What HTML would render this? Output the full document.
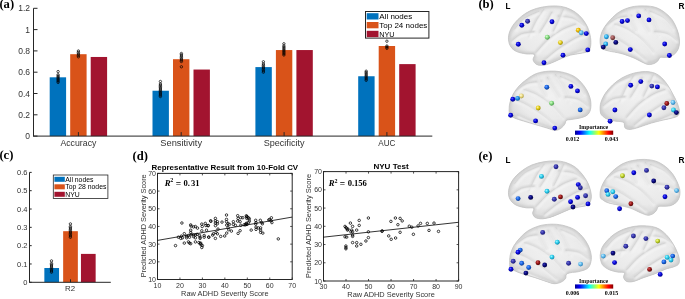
<!DOCTYPE html>
<html><head><meta charset="utf-8"><style>
html,body{margin:0;padding:0;background:#fff;width:685px;height:299px;overflow:hidden}
svg{display:block;will-change:transform}

</style></head><body>
<svg width="685" height="299" viewBox="0 0 685 299">
<rect width="685" height="299" fill="#fff"/>
<text x="-0.60" y="8.40" font-family="Liberation Serif" font-size="12.6" font-weight="bold" text-anchor="start" fill="#000" >(a)</text>
<line x1="33.50" y1="136.10" x2="37.50" y2="136.10" stroke="#262626" stroke-width="1"/>
<text x="30.10" y="139.10" font-family="Liberation Sans" font-size="8.5" font-weight="normal" text-anchor="end" fill="#333" >0</text>
<line x1="33.50" y1="114.80" x2="37.50" y2="114.80" stroke="#262626" stroke-width="1"/>
<text x="30.10" y="117.80" font-family="Liberation Sans" font-size="8.5" font-weight="normal" text-anchor="end" fill="#333" >0.2</text>
<line x1="33.50" y1="93.50" x2="37.50" y2="93.50" stroke="#262626" stroke-width="1"/>
<text x="30.10" y="96.50" font-family="Liberation Sans" font-size="8.5" font-weight="normal" text-anchor="end" fill="#333" >0.4</text>
<line x1="33.50" y1="72.20" x2="37.50" y2="72.20" stroke="#262626" stroke-width="1"/>
<text x="30.10" y="75.20" font-family="Liberation Sans" font-size="8.5" font-weight="normal" text-anchor="end" fill="#333" >0.6</text>
<line x1="33.50" y1="50.90" x2="37.50" y2="50.90" stroke="#262626" stroke-width="1"/>
<text x="30.10" y="53.90" font-family="Liberation Sans" font-size="8.5" font-weight="normal" text-anchor="end" fill="#333" >0.8</text>
<line x1="33.50" y1="29.60" x2="37.50" y2="29.60" stroke="#262626" stroke-width="1"/>
<text x="30.10" y="32.60" font-family="Liberation Sans" font-size="8.5" font-weight="normal" text-anchor="end" fill="#333" >1</text>
<line x1="33.50" y1="8.30" x2="37.50" y2="8.30" stroke="#262626" stroke-width="1"/>
<text x="30.10" y="11.30" font-family="Liberation Sans" font-size="8.5" font-weight="normal" text-anchor="end" fill="#333" >1.2</text>
<rect x="49.70" y="77.31" width="16.40" height="58.79" fill="#0072BD" stroke="none" stroke-width="0"/>
<rect x="70.20" y="54.20" width="16.40" height="81.90" fill="#D95319" stroke="none" stroke-width="0"/>
<rect x="90.70" y="56.97" width="16.40" height="79.13" fill="#A2142F" stroke="none" stroke-width="0"/>
<line x1="78.40" y1="136.10" x2="78.40" y2="132.10" stroke="#262626" stroke-width="1"/>
<text x="78.40" y="145.70" font-family="Liberation Sans" font-size="8.5" font-weight="normal" text-anchor="middle" fill="#333" textLength="36.0" lengthAdjust="spacingAndGlyphs">Accuracy</text>
<rect x="152.50" y="90.73" width="16.40" height="45.37" fill="#0072BD" stroke="none" stroke-width="0"/>
<rect x="173.00" y="59.21" width="16.40" height="76.89" fill="#D95319" stroke="none" stroke-width="0"/>
<rect x="193.50" y="69.54" width="16.40" height="66.56" fill="#A2142F" stroke="none" stroke-width="0"/>
<line x1="181.20" y1="136.10" x2="181.20" y2="132.10" stroke="#262626" stroke-width="1"/>
<text x="181.20" y="145.70" font-family="Liberation Sans" font-size="8.5" font-weight="normal" text-anchor="middle" fill="#333" textLength="41.8" lengthAdjust="spacingAndGlyphs">Sensitivity</text>
<rect x="255.40" y="67.09" width="16.40" height="69.01" fill="#0072BD" stroke="none" stroke-width="0"/>
<rect x="275.90" y="50.05" width="16.40" height="86.05" fill="#D95319" stroke="none" stroke-width="0"/>
<rect x="296.40" y="50.05" width="16.40" height="86.05" fill="#A2142F" stroke="none" stroke-width="0"/>
<line x1="284.10" y1="136.10" x2="284.10" y2="132.10" stroke="#262626" stroke-width="1"/>
<text x="284.10" y="145.70" font-family="Liberation Sans" font-size="8.5" font-weight="normal" text-anchor="middle" fill="#333" textLength="40.8" lengthAdjust="spacingAndGlyphs">Specificity</text>
<rect x="358.20" y="76.25" width="16.40" height="59.85" fill="#0072BD" stroke="none" stroke-width="0"/>
<rect x="378.70" y="46.00" width="16.40" height="90.10" fill="#D95319" stroke="none" stroke-width="0"/>
<rect x="399.20" y="64.11" width="16.40" height="71.99" fill="#A2142F" stroke="none" stroke-width="0"/>
<line x1="386.90" y1="136.10" x2="386.90" y2="132.10" stroke="#262626" stroke-width="1"/>
<text x="386.90" y="145.70" font-family="Liberation Sans" font-size="8.5" font-weight="normal" text-anchor="middle" fill="#333" textLength="17.2" lengthAdjust="spacingAndGlyphs">AUC</text>
<line x1="33.50" y1="8.30" x2="33.50" y2="136.60" stroke="#262626" stroke-width="1"/>
<line x1="33.50" y1="136.10" x2="432.30" y2="136.10" stroke="#262626" stroke-width="1"/>
<rect x="365.50" y="11.50" width="63.40" height="26.60" fill="#fff" stroke="#262626" stroke-width="1.0"/>
<rect x="366.70" y="13.20" width="11.80" height="6.30" fill="#0072BD" stroke="none" stroke-width="0"/>
<text x="379.30" y="19.20" font-family="Liberation Sans" font-size="8.0" font-weight="normal" text-anchor="start" fill="#000" >All nodes</text>
<rect x="366.70" y="22.00" width="11.80" height="6.30" fill="#D95319" stroke="none" stroke-width="0"/>
<text x="379.30" y="28.00" font-family="Liberation Sans" font-size="8.0" font-weight="normal" text-anchor="start" fill="#000" >Top 24 nodes</text>
<rect x="366.70" y="30.80" width="11.80" height="6.30" fill="#A2142F" stroke="none" stroke-width="0"/>
<text x="379.30" y="36.80" font-family="Liberation Sans" font-size="8.0" font-weight="normal" text-anchor="start" fill="#000" textLength="15.2" lengthAdjust="spacingAndGlyphs">NYU</text>
<text x="-0.60" y="159.30" font-family="Liberation Serif" font-size="12.6" font-weight="bold" text-anchor="start" fill="#000" >(c)</text>
<line x1="29.50" y1="282.30" x2="31.70" y2="282.30" stroke="#262626" stroke-width="1"/>
<text x="27.50" y="284.90" font-family="Liberation Sans" font-size="7.5" font-weight="normal" text-anchor="end" fill="#333" >0</text>
<line x1="29.50" y1="263.98" x2="31.70" y2="263.98" stroke="#262626" stroke-width="1"/>
<text x="27.50" y="266.58" font-family="Liberation Sans" font-size="7.5" font-weight="normal" text-anchor="end" fill="#333" >0.1</text>
<line x1="29.50" y1="245.66" x2="31.70" y2="245.66" stroke="#262626" stroke-width="1"/>
<text x="27.50" y="248.26" font-family="Liberation Sans" font-size="7.5" font-weight="normal" text-anchor="end" fill="#333" >0.2</text>
<line x1="29.50" y1="227.34" x2="31.70" y2="227.34" stroke="#262626" stroke-width="1"/>
<text x="27.50" y="229.94" font-family="Liberation Sans" font-size="7.5" font-weight="normal" text-anchor="end" fill="#333" >0.3</text>
<line x1="29.50" y1="209.02" x2="31.70" y2="209.02" stroke="#262626" stroke-width="1"/>
<text x="27.50" y="211.62" font-family="Liberation Sans" font-size="7.5" font-weight="normal" text-anchor="end" fill="#333" >0.4</text>
<line x1="29.50" y1="190.70" x2="31.70" y2="190.70" stroke="#262626" stroke-width="1"/>
<text x="27.50" y="193.30" font-family="Liberation Sans" font-size="7.5" font-weight="normal" text-anchor="end" fill="#333" >0.5</text>
<line x1="29.50" y1="172.38" x2="31.70" y2="172.38" stroke="#262626" stroke-width="1"/>
<text x="27.50" y="174.98" font-family="Liberation Sans" font-size="7.5" font-weight="normal" text-anchor="end" fill="#333" >0.6</text>
<rect x="44.35" y="268.01" width="14.70" height="14.29" fill="#0072BD" stroke="none" stroke-width="0"/>
<rect x="63.15" y="231.19" width="14.70" height="51.11" fill="#D95319" stroke="none" stroke-width="0"/>
<rect x="80.95" y="253.90" width="14.70" height="28.40" fill="#A2142F" stroke="none" stroke-width="0"/>
<line x1="70.50" y1="282.30" x2="70.50" y2="279.30" stroke="#262626" stroke-width="1"/>
<line x1="29.50" y1="172.38" x2="29.50" y2="282.80" stroke="#262626" stroke-width="1"/>
<line x1="29.50" y1="282.30" x2="110.80" y2="282.30" stroke="#262626" stroke-width="1"/>
<text x="70.00" y="291.30" font-family="Liberation Sans" font-size="7.9" font-weight="normal" text-anchor="middle" fill="#333" >R2</text>
<rect x="53.30" y="175.00" width="54.60" height="23.50" fill="#fff" stroke="#262626" stroke-width="0.8"/>
<rect x="54.40" y="176.80" width="10.40" height="5.00" fill="#0072BD" stroke="none" stroke-width="0"/>
<text x="65.30" y="181.80" font-family="Liberation Sans" font-size="6.85" font-weight="normal" text-anchor="start" fill="#000" >All nodes</text>
<rect x="54.40" y="184.30" width="10.40" height="5.00" fill="#D95319" stroke="none" stroke-width="0"/>
<text x="65.30" y="189.30" font-family="Liberation Sans" font-size="6.85" font-weight="normal" text-anchor="start" fill="#000" >Top 28 nodes</text>
<rect x="54.40" y="191.80" width="10.40" height="5.00" fill="#A2142F" stroke="none" stroke-width="0"/>
<text x="65.30" y="196.80" font-family="Liberation Sans" font-size="6.85" font-weight="normal" text-anchor="start" fill="#000" >NYU</text>
<text x="132.50" y="159.60" font-family="Liberation Serif" font-size="12.6" font-weight="bold" text-anchor="start" fill="#000" >(d)</text>
<rect x="157.50" y="173.40" width="134.70" height="106.10" fill="none" stroke="#262626" stroke-width="1.0"/>
<line x1="157.50" y1="279.50" x2="157.50" y2="277.50" stroke="#262626" stroke-width="0.8"/>
<line x1="157.50" y1="173.40" x2="157.50" y2="175.40" stroke="#262626" stroke-width="0.8"/>
<text x="157.50" y="287.70" font-family="Liberation Sans" font-size="7.0" font-weight="normal" text-anchor="middle" fill="#333" >10</text>
<line x1="179.95" y1="279.50" x2="179.95" y2="277.50" stroke="#262626" stroke-width="0.8"/>
<line x1="179.95" y1="173.40" x2="179.95" y2="175.40" stroke="#262626" stroke-width="0.8"/>
<text x="179.95" y="287.70" font-family="Liberation Sans" font-size="7.0" font-weight="normal" text-anchor="middle" fill="#333" >20</text>
<line x1="202.40" y1="279.50" x2="202.40" y2="277.50" stroke="#262626" stroke-width="0.8"/>
<line x1="202.40" y1="173.40" x2="202.40" y2="175.40" stroke="#262626" stroke-width="0.8"/>
<text x="202.40" y="287.70" font-family="Liberation Sans" font-size="7.0" font-weight="normal" text-anchor="middle" fill="#333" >30</text>
<line x1="224.85" y1="279.50" x2="224.85" y2="277.50" stroke="#262626" stroke-width="0.8"/>
<line x1="224.85" y1="173.40" x2="224.85" y2="175.40" stroke="#262626" stroke-width="0.8"/>
<text x="224.85" y="287.70" font-family="Liberation Sans" font-size="7.0" font-weight="normal" text-anchor="middle" fill="#333" >40</text>
<line x1="247.30" y1="279.50" x2="247.30" y2="277.50" stroke="#262626" stroke-width="0.8"/>
<line x1="247.30" y1="173.40" x2="247.30" y2="175.40" stroke="#262626" stroke-width="0.8"/>
<text x="247.30" y="287.70" font-family="Liberation Sans" font-size="7.0" font-weight="normal" text-anchor="middle" fill="#333" >50</text>
<line x1="269.75" y1="279.50" x2="269.75" y2="277.50" stroke="#262626" stroke-width="0.8"/>
<line x1="269.75" y1="173.40" x2="269.75" y2="175.40" stroke="#262626" stroke-width="0.8"/>
<text x="269.75" y="287.70" font-family="Liberation Sans" font-size="7.0" font-weight="normal" text-anchor="middle" fill="#333" >60</text>
<line x1="292.20" y1="279.50" x2="292.20" y2="277.50" stroke="#262626" stroke-width="0.8"/>
<line x1="292.20" y1="173.40" x2="292.20" y2="175.40" stroke="#262626" stroke-width="0.8"/>
<text x="292.20" y="287.70" font-family="Liberation Sans" font-size="7.0" font-weight="normal" text-anchor="middle" fill="#333" >70</text>
<line x1="157.50" y1="279.50" x2="159.50" y2="279.50" stroke="#262626" stroke-width="0.8"/>
<line x1="292.20" y1="279.50" x2="290.20" y2="279.50" stroke="#262626" stroke-width="0.8"/>
<text x="156.00" y="282.00" font-family="Liberation Sans" font-size="7.0" font-weight="normal" text-anchor="end" fill="#333" >10</text>
<line x1="157.50" y1="261.82" x2="159.50" y2="261.82" stroke="#262626" stroke-width="0.8"/>
<line x1="292.20" y1="261.82" x2="290.20" y2="261.82" stroke="#262626" stroke-width="0.8"/>
<text x="156.00" y="264.32" font-family="Liberation Sans" font-size="7.0" font-weight="normal" text-anchor="end" fill="#333" >20</text>
<line x1="157.50" y1="244.13" x2="159.50" y2="244.13" stroke="#262626" stroke-width="0.8"/>
<line x1="292.20" y1="244.13" x2="290.20" y2="244.13" stroke="#262626" stroke-width="0.8"/>
<text x="156.00" y="246.63" font-family="Liberation Sans" font-size="7.0" font-weight="normal" text-anchor="end" fill="#333" >30</text>
<line x1="157.50" y1="226.45" x2="159.50" y2="226.45" stroke="#262626" stroke-width="0.8"/>
<line x1="292.20" y1="226.45" x2="290.20" y2="226.45" stroke="#262626" stroke-width="0.8"/>
<text x="156.00" y="228.95" font-family="Liberation Sans" font-size="7.0" font-weight="normal" text-anchor="end" fill="#333" >40</text>
<line x1="157.50" y1="208.77" x2="159.50" y2="208.77" stroke="#262626" stroke-width="0.8"/>
<line x1="292.20" y1="208.77" x2="290.20" y2="208.77" stroke="#262626" stroke-width="0.8"/>
<text x="156.00" y="211.27" font-family="Liberation Sans" font-size="7.0" font-weight="normal" text-anchor="end" fill="#333" >50</text>
<line x1="157.50" y1="191.08" x2="159.50" y2="191.08" stroke="#262626" stroke-width="0.8"/>
<line x1="292.20" y1="191.08" x2="290.20" y2="191.08" stroke="#262626" stroke-width="0.8"/>
<text x="156.00" y="193.58" font-family="Liberation Sans" font-size="7.0" font-weight="normal" text-anchor="end" fill="#333" >60</text>
<line x1="157.50" y1="173.40" x2="159.50" y2="173.40" stroke="#262626" stroke-width="0.8"/>
<line x1="292.20" y1="173.40" x2="290.20" y2="173.40" stroke="#262626" stroke-width="0.8"/>
<text x="156.00" y="175.90" font-family="Liberation Sans" font-size="7.0" font-weight="normal" text-anchor="end" fill="#333" >70</text>
<text x="224.85" y="170.40" font-family="Liberation Sans" font-size="7.85" font-weight="bold" text-anchor="middle" fill="#000" textLength="146.6" lengthAdjust="spacingAndGlyphs">Representative Result from 10-Fold CV</text>
<text x="224.85" y="295.70" font-family="Liberation Sans" font-size="7.4" font-weight="normal" text-anchor="middle" fill="#333" >Raw ADHD Severity Score</text>
<text x="146.40" y="225.80" font-family="Liberation Sans" font-size="7.8" font-weight="normal" text-anchor="middle" fill="#333" textLength="103.0" lengthAdjust="spacingAndGlyphs" transform="rotate(-90 146.40 225.80)">Predicted ADHD Severity Score</text>
<text x="164.7" y="185.8" font-family="Liberation Serif" font-weight="bold" fill="#000" font-size="8.6" font-style="italic">R</text>
<text x="170.20000000000002" y="182.4" font-family="Liberation Serif" font-weight="bold" fill="#000" font-size="6.0">2</text>
<text x="175.8" y="186.70000000000002" font-family="Liberation Serif" font-weight="bold" fill="#000" font-size="9.4">=</text>
<text x="183.5" y="185.8" font-family="Liberation Serif" font-weight="bold" fill="#000" font-size="8.6">0.</text>
<text x="191.0" y="185.8" font-family="Liberation Serif" font-weight="bold" fill="#000" font-size="8.6">31</text>
<line x1="157.50" y1="240.40" x2="292.10" y2="217.10" stroke="#000" stroke-width="0.8"/>
<circle cx="181.90" cy="223.00" r="1.25" fill="none" stroke="#000" stroke-width="0.75"/>
<circle cx="175.50" cy="245.60" r="1.25" fill="none" stroke="#000" stroke-width="0.75"/>
<circle cx="190.70" cy="224.90" r="1.25" fill="none" stroke="#000" stroke-width="0.75"/>
<circle cx="191.10" cy="226.10" r="1.25" fill="none" stroke="#000" stroke-width="0.75"/>
<circle cx="193.60" cy="226.90" r="1.25" fill="none" stroke="#000" stroke-width="0.75"/>
<circle cx="195.40" cy="226.50" r="1.25" fill="none" stroke="#000" stroke-width="0.75"/>
<circle cx="197.50" cy="228.10" r="1.25" fill="none" stroke="#000" stroke-width="0.75"/>
<circle cx="201.80" cy="224.10" r="1.25" fill="none" stroke="#000" stroke-width="0.75"/>
<circle cx="202.20" cy="226.50" r="1.25" fill="none" stroke="#000" stroke-width="0.75"/>
<circle cx="205.30" cy="223.40" r="1.25" fill="none" stroke="#000" stroke-width="0.75"/>
<circle cx="205.90" cy="225.50" r="1.25" fill="none" stroke="#000" stroke-width="0.75"/>
<circle cx="208.30" cy="225.50" r="1.25" fill="none" stroke="#000" stroke-width="0.75"/>
<circle cx="210.60" cy="220.80" r="1.25" fill="none" stroke="#000" stroke-width="0.75"/>
<circle cx="190.70" cy="230.20" r="1.25" fill="none" stroke="#000" stroke-width="0.75"/>
<circle cx="190.70" cy="232.50" r="1.25" fill="none" stroke="#000" stroke-width="0.75"/>
<circle cx="201.80" cy="230.80" r="1.25" fill="none" stroke="#000" stroke-width="0.75"/>
<circle cx="206.50" cy="230.20" r="1.25" fill="none" stroke="#000" stroke-width="0.75"/>
<circle cx="184.30" cy="233.70" r="1.25" fill="none" stroke="#000" stroke-width="0.75"/>
<circle cx="181.40" cy="236.10" r="1.25" fill="none" stroke="#000" stroke-width="0.75"/>
<circle cx="182.50" cy="237.80" r="1.25" fill="none" stroke="#000" stroke-width="0.75"/>
<circle cx="186.60" cy="236.10" r="1.25" fill="none" stroke="#000" stroke-width="0.75"/>
<circle cx="188.40" cy="235.50" r="1.25" fill="none" stroke="#000" stroke-width="0.75"/>
<circle cx="189.50" cy="237.20" r="1.25" fill="none" stroke="#000" stroke-width="0.75"/>
<circle cx="186.60" cy="237.80" r="1.25" fill="none" stroke="#000" stroke-width="0.75"/>
<circle cx="191.30" cy="234.30" r="1.25" fill="none" stroke="#000" stroke-width="0.75"/>
<circle cx="193.60" cy="234.90" r="1.25" fill="none" stroke="#000" stroke-width="0.75"/>
<circle cx="195.40" cy="234.90" r="1.25" fill="none" stroke="#000" stroke-width="0.75"/>
<circle cx="197.10" cy="234.30" r="1.25" fill="none" stroke="#000" stroke-width="0.75"/>
<circle cx="199.50" cy="235.50" r="1.25" fill="none" stroke="#000" stroke-width="0.75"/>
<circle cx="200.10" cy="237.20" r="1.25" fill="none" stroke="#000" stroke-width="0.75"/>
<circle cx="200.10" cy="238.40" r="1.25" fill="none" stroke="#000" stroke-width="0.75"/>
<circle cx="193.60" cy="236.60" r="1.25" fill="none" stroke="#000" stroke-width="0.75"/>
<circle cx="195.40" cy="237.80" r="1.25" fill="none" stroke="#000" stroke-width="0.75"/>
<circle cx="204.20" cy="235.50" r="1.25" fill="none" stroke="#000" stroke-width="0.75"/>
<circle cx="204.20" cy="237.20" r="1.25" fill="none" stroke="#000" stroke-width="0.75"/>
<circle cx="208.80" cy="237.20" r="1.25" fill="none" stroke="#000" stroke-width="0.75"/>
<circle cx="184.30" cy="243.10" r="1.25" fill="none" stroke="#000" stroke-width="0.75"/>
<circle cx="188.40" cy="241.90" r="1.25" fill="none" stroke="#000" stroke-width="0.75"/>
<circle cx="189.50" cy="243.10" r="1.25" fill="none" stroke="#000" stroke-width="0.75"/>
<circle cx="190.70" cy="243.70" r="1.25" fill="none" stroke="#000" stroke-width="0.75"/>
<circle cx="195.40" cy="241.90" r="1.25" fill="none" stroke="#000" stroke-width="0.75"/>
<circle cx="198.90" cy="242.50" r="1.25" fill="none" stroke="#000" stroke-width="0.75"/>
<circle cx="200.10" cy="243.70" r="1.25" fill="none" stroke="#000" stroke-width="0.75"/>
<circle cx="201.20" cy="244.80" r="1.25" fill="none" stroke="#000" stroke-width="0.75"/>
<circle cx="202.40" cy="245.60" r="1.25" fill="none" stroke="#000" stroke-width="0.75"/>
<circle cx="201.80" cy="247.50" r="1.25" fill="none" stroke="#000" stroke-width="0.75"/>
<circle cx="200.70" cy="243.10" r="1.25" fill="none" stroke="#000" stroke-width="0.75"/>
<circle cx="178.40" cy="237.20" r="1.25" fill="none" stroke="#000" stroke-width="0.75"/>
<circle cx="180.80" cy="238.40" r="1.25" fill="none" stroke="#000" stroke-width="0.75"/>
<circle cx="226.50" cy="215.00" r="1.25" fill="none" stroke="#000" stroke-width="0.75"/>
<circle cx="210.90" cy="221.30" r="1.25" fill="none" stroke="#000" stroke-width="0.75"/>
<circle cx="215.40" cy="218.40" r="1.25" fill="none" stroke="#000" stroke-width="0.75"/>
<circle cx="215.40" cy="220.80" r="1.25" fill="none" stroke="#000" stroke-width="0.75"/>
<circle cx="215.40" cy="223.10" r="1.25" fill="none" stroke="#000" stroke-width="0.75"/>
<circle cx="215.40" cy="225.70" r="1.25" fill="none" stroke="#000" stroke-width="0.75"/>
<circle cx="217.40" cy="221.70" r="1.25" fill="none" stroke="#000" stroke-width="0.75"/>
<circle cx="217.40" cy="223.70" r="1.25" fill="none" stroke="#000" stroke-width="0.75"/>
<circle cx="222.00" cy="222.10" r="1.25" fill="none" stroke="#000" stroke-width="0.75"/>
<circle cx="226.50" cy="219.40" r="1.25" fill="none" stroke="#000" stroke-width="0.75"/>
<circle cx="226.50" cy="221.70" r="1.25" fill="none" stroke="#000" stroke-width="0.75"/>
<circle cx="226.70" cy="225.10" r="1.25" fill="none" stroke="#000" stroke-width="0.75"/>
<circle cx="228.10" cy="223.70" r="1.25" fill="none" stroke="#000" stroke-width="0.75"/>
<circle cx="229.40" cy="224.40" r="1.25" fill="none" stroke="#000" stroke-width="0.75"/>
<circle cx="233.40" cy="221.70" r="1.25" fill="none" stroke="#000" stroke-width="0.75"/>
<circle cx="233.40" cy="224.40" r="1.25" fill="none" stroke="#000" stroke-width="0.75"/>
<circle cx="235.40" cy="225.30" r="1.25" fill="none" stroke="#000" stroke-width="0.75"/>
<circle cx="237.70" cy="215.70" r="1.25" fill="none" stroke="#000" stroke-width="0.75"/>
<circle cx="238.10" cy="218.40" r="1.25" fill="none" stroke="#000" stroke-width="0.75"/>
<circle cx="237.70" cy="221.10" r="1.25" fill="none" stroke="#000" stroke-width="0.75"/>
<circle cx="240.80" cy="217.70" r="1.25" fill="none" stroke="#000" stroke-width="0.75"/>
<circle cx="242.80" cy="217.70" r="1.25" fill="none" stroke="#000" stroke-width="0.75"/>
<circle cx="240.10" cy="221.70" r="1.25" fill="none" stroke="#000" stroke-width="0.75"/>
<circle cx="246.80" cy="216.40" r="1.25" fill="none" stroke="#000" stroke-width="0.75"/>
<circle cx="246.80" cy="218.40" r="1.25" fill="none" stroke="#000" stroke-width="0.75"/>
<circle cx="240.80" cy="225.30" r="1.25" fill="none" stroke="#000" stroke-width="0.75"/>
<circle cx="244.10" cy="224.80" r="1.25" fill="none" stroke="#000" stroke-width="0.75"/>
<circle cx="246.10" cy="224.00" r="1.25" fill="none" stroke="#000" stroke-width="0.75"/>
<circle cx="218.00" cy="229.10" r="1.25" fill="none" stroke="#000" stroke-width="0.75"/>
<circle cx="216.00" cy="232.40" r="1.25" fill="none" stroke="#000" stroke-width="0.75"/>
<circle cx="217.40" cy="233.80" r="1.25" fill="none" stroke="#000" stroke-width="0.75"/>
<circle cx="213.40" cy="233.80" r="1.25" fill="none" stroke="#000" stroke-width="0.75"/>
<circle cx="212.70" cy="235.10" r="1.25" fill="none" stroke="#000" stroke-width="0.75"/>
<circle cx="228.10" cy="227.70" r="1.25" fill="none" stroke="#000" stroke-width="0.75"/>
<circle cx="228.70" cy="229.70" r="1.25" fill="none" stroke="#000" stroke-width="0.75"/>
<circle cx="231.40" cy="231.10" r="1.25" fill="none" stroke="#000" stroke-width="0.75"/>
<circle cx="226.70" cy="233.10" r="1.25" fill="none" stroke="#000" stroke-width="0.75"/>
<circle cx="224.70" cy="236.00" r="1.25" fill="none" stroke="#000" stroke-width="0.75"/>
<circle cx="220.70" cy="236.40" r="1.25" fill="none" stroke="#000" stroke-width="0.75"/>
<circle cx="240.10" cy="230.70" r="1.25" fill="none" stroke="#000" stroke-width="0.75"/>
<circle cx="238.10" cy="233.40" r="1.25" fill="none" stroke="#000" stroke-width="0.75"/>
<circle cx="215.40" cy="238.40" r="1.25" fill="none" stroke="#000" stroke-width="0.75"/>
<circle cx="208.70" cy="237.10" r="1.25" fill="none" stroke="#000" stroke-width="0.75"/>
<circle cx="208.00" cy="225.70" r="1.25" fill="none" stroke="#000" stroke-width="0.75"/>
<circle cx="246.30" cy="215.80" r="1.25" fill="none" stroke="#000" stroke-width="0.75"/>
<circle cx="247.00" cy="216.90" r="1.25" fill="none" stroke="#000" stroke-width="0.75"/>
<circle cx="248.50" cy="217.80" r="1.25" fill="none" stroke="#000" stroke-width="0.75"/>
<circle cx="249.30" cy="218.80" r="1.25" fill="none" stroke="#000" stroke-width="0.75"/>
<circle cx="249.30" cy="221.10" r="1.25" fill="none" stroke="#000" stroke-width="0.75"/>
<circle cx="248.50" cy="222.60" r="1.25" fill="none" stroke="#000" stroke-width="0.75"/>
<circle cx="246.30" cy="223.30" r="1.25" fill="none" stroke="#000" stroke-width="0.75"/>
<circle cx="247.00" cy="224.40" r="1.25" fill="none" stroke="#000" stroke-width="0.75"/>
<circle cx="245.50" cy="224.80" r="1.25" fill="none" stroke="#000" stroke-width="0.75"/>
<circle cx="255.70" cy="220.30" r="1.25" fill="none" stroke="#000" stroke-width="0.75"/>
<circle cx="256.00" cy="222.60" r="1.25" fill="none" stroke="#000" stroke-width="0.75"/>
<circle cx="255.70" cy="224.10" r="1.25" fill="none" stroke="#000" stroke-width="0.75"/>
<circle cx="260.30" cy="220.30" r="1.25" fill="none" stroke="#000" stroke-width="0.75"/>
<circle cx="261.80" cy="222.60" r="1.25" fill="none" stroke="#000" stroke-width="0.75"/>
<circle cx="262.40" cy="223.80" r="1.25" fill="none" stroke="#000" stroke-width="0.75"/>
<circle cx="269.60" cy="219.60" r="1.25" fill="none" stroke="#000" stroke-width="0.75"/>
<circle cx="271.40" cy="217.80" r="1.25" fill="none" stroke="#000" stroke-width="0.75"/>
<circle cx="271.10" cy="220.80" r="1.25" fill="none" stroke="#000" stroke-width="0.75"/>
<circle cx="271.90" cy="222.60" r="1.25" fill="none" stroke="#000" stroke-width="0.75"/>
<circle cx="268.80" cy="219.90" r="1.25" fill="none" stroke="#000" stroke-width="0.75"/>
<circle cx="251.20" cy="230.10" r="1.25" fill="none" stroke="#000" stroke-width="0.75"/>
<circle cx="256.00" cy="227.10" r="1.25" fill="none" stroke="#000" stroke-width="0.75"/>
<circle cx="256.00" cy="229.40" r="1.25" fill="none" stroke="#000" stroke-width="0.75"/>
<circle cx="258.30" cy="227.90" r="1.25" fill="none" stroke="#000" stroke-width="0.75"/>
<circle cx="260.60" cy="227.90" r="1.25" fill="none" stroke="#000" stroke-width="0.75"/>
<circle cx="260.60" cy="230.10" r="1.25" fill="none" stroke="#000" stroke-width="0.75"/>
<circle cx="260.60" cy="232.40" r="1.25" fill="none" stroke="#000" stroke-width="0.75"/>
<circle cx="262.80" cy="233.10" r="1.25" fill="none" stroke="#000" stroke-width="0.75"/>
<circle cx="278.30" cy="238.90" r="1.25" fill="none" stroke="#000" stroke-width="0.75"/>
<rect x="323.50" y="171.60" width="135.10" height="109.40" fill="none" stroke="#262626" stroke-width="1.0"/>
<line x1="323.50" y1="281.00" x2="323.50" y2="279.00" stroke="#262626" stroke-width="0.8"/>
<line x1="323.50" y1="171.60" x2="323.50" y2="173.60" stroke="#262626" stroke-width="0.8"/>
<text x="323.50" y="289.20" font-family="Liberation Sans" font-size="7.0" font-weight="normal" text-anchor="middle" fill="#333" >30</text>
<line x1="346.02" y1="281.00" x2="346.02" y2="279.00" stroke="#262626" stroke-width="0.8"/>
<line x1="346.02" y1="171.60" x2="346.02" y2="173.60" stroke="#262626" stroke-width="0.8"/>
<text x="346.02" y="289.20" font-family="Liberation Sans" font-size="7.0" font-weight="normal" text-anchor="middle" fill="#333" >40</text>
<line x1="368.53" y1="281.00" x2="368.53" y2="279.00" stroke="#262626" stroke-width="0.8"/>
<line x1="368.53" y1="171.60" x2="368.53" y2="173.60" stroke="#262626" stroke-width="0.8"/>
<text x="368.53" y="289.20" font-family="Liberation Sans" font-size="7.0" font-weight="normal" text-anchor="middle" fill="#333" >50</text>
<line x1="391.05" y1="281.00" x2="391.05" y2="279.00" stroke="#262626" stroke-width="0.8"/>
<line x1="391.05" y1="171.60" x2="391.05" y2="173.60" stroke="#262626" stroke-width="0.8"/>
<text x="391.05" y="289.20" font-family="Liberation Sans" font-size="7.0" font-weight="normal" text-anchor="middle" fill="#333" >60</text>
<line x1="413.57" y1="281.00" x2="413.57" y2="279.00" stroke="#262626" stroke-width="0.8"/>
<line x1="413.57" y1="171.60" x2="413.57" y2="173.60" stroke="#262626" stroke-width="0.8"/>
<text x="413.57" y="289.20" font-family="Liberation Sans" font-size="7.0" font-weight="normal" text-anchor="middle" fill="#333" >70</text>
<line x1="436.08" y1="281.00" x2="436.08" y2="279.00" stroke="#262626" stroke-width="0.8"/>
<line x1="436.08" y1="171.60" x2="436.08" y2="173.60" stroke="#262626" stroke-width="0.8"/>
<text x="436.08" y="289.20" font-family="Liberation Sans" font-size="7.0" font-weight="normal" text-anchor="middle" fill="#333" >80</text>
<line x1="458.60" y1="281.00" x2="458.60" y2="279.00" stroke="#262626" stroke-width="0.8"/>
<line x1="458.60" y1="171.60" x2="458.60" y2="173.60" stroke="#262626" stroke-width="0.8"/>
<text x="458.60" y="289.20" font-family="Liberation Sans" font-size="7.0" font-weight="normal" text-anchor="middle" fill="#333" >90</text>
<line x1="323.50" y1="281.00" x2="325.50" y2="281.00" stroke="#262626" stroke-width="0.8"/>
<line x1="458.60" y1="281.00" x2="456.60" y2="281.00" stroke="#262626" stroke-width="0.8"/>
<text x="322.00" y="283.50" font-family="Liberation Sans" font-size="7.0" font-weight="normal" text-anchor="end" fill="#333" >10</text>
<line x1="323.50" y1="262.77" x2="325.50" y2="262.77" stroke="#262626" stroke-width="0.8"/>
<line x1="458.60" y1="262.77" x2="456.60" y2="262.77" stroke="#262626" stroke-width="0.8"/>
<text x="322.00" y="265.27" font-family="Liberation Sans" font-size="7.0" font-weight="normal" text-anchor="end" fill="#333" >20</text>
<line x1="323.50" y1="244.53" x2="325.50" y2="244.53" stroke="#262626" stroke-width="0.8"/>
<line x1="458.60" y1="244.53" x2="456.60" y2="244.53" stroke="#262626" stroke-width="0.8"/>
<text x="322.00" y="247.03" font-family="Liberation Sans" font-size="7.0" font-weight="normal" text-anchor="end" fill="#333" >30</text>
<line x1="323.50" y1="226.30" x2="325.50" y2="226.30" stroke="#262626" stroke-width="0.8"/>
<line x1="458.60" y1="226.30" x2="456.60" y2="226.30" stroke="#262626" stroke-width="0.8"/>
<text x="322.00" y="228.80" font-family="Liberation Sans" font-size="7.0" font-weight="normal" text-anchor="end" fill="#333" >40</text>
<line x1="323.50" y1="208.07" x2="325.50" y2="208.07" stroke="#262626" stroke-width="0.8"/>
<line x1="458.60" y1="208.07" x2="456.60" y2="208.07" stroke="#262626" stroke-width="0.8"/>
<text x="322.00" y="210.57" font-family="Liberation Sans" font-size="7.0" font-weight="normal" text-anchor="end" fill="#333" >50</text>
<line x1="323.50" y1="189.83" x2="325.50" y2="189.83" stroke="#262626" stroke-width="0.8"/>
<line x1="458.60" y1="189.83" x2="456.60" y2="189.83" stroke="#262626" stroke-width="0.8"/>
<text x="322.00" y="192.33" font-family="Liberation Sans" font-size="7.0" font-weight="normal" text-anchor="end" fill="#333" >60</text>
<line x1="323.50" y1="171.60" x2="325.50" y2="171.60" stroke="#262626" stroke-width="0.8"/>
<line x1="458.60" y1="171.60" x2="456.60" y2="171.60" stroke="#262626" stroke-width="0.8"/>
<text x="322.00" y="174.10" font-family="Liberation Sans" font-size="7.0" font-weight="normal" text-anchor="end" fill="#333" >70</text>
<text x="391.05" y="168.60" font-family="Liberation Sans" font-size="7.85" font-weight="bold" text-anchor="middle" fill="#000" textLength="35.2" lengthAdjust="spacingAndGlyphs">NYU Test</text>
<text x="391.05" y="297.20" font-family="Liberation Sans" font-size="7.4" font-weight="normal" text-anchor="middle" fill="#333" >Raw ADHD Severity Score</text>
<text x="311.30" y="226.00" font-family="Liberation Sans" font-size="7.8" font-weight="normal" text-anchor="middle" fill="#333" textLength="104.0" lengthAdjust="spacingAndGlyphs" transform="rotate(-90 311.30 226.00)">Predicted ADHD Severity Score</text>
<text x="328.8" y="186.0" font-family="Liberation Serif" font-weight="bold" fill="#000" font-size="8.6" font-style="italic">R</text>
<text x="334.6" y="182.6" font-family="Liberation Serif" font-weight="bold" fill="#000" font-size="6.0">2</text>
<text x="339.7" y="186.9" font-family="Liberation Serif" font-weight="bold" fill="#000" font-size="9.4">=</text>
<text x="347.8" y="186.0" font-family="Liberation Serif" font-weight="bold" fill="#000" font-size="8.6">0.</text>
<text x="354.0" y="186.0" font-family="Liberation Serif" font-weight="bold" fill="#000" font-size="8.6">156</text>
<line x1="323.20" y1="237.20" x2="458.50" y2="222.30" stroke="#000" stroke-width="0.8"/>
<circle cx="368.40" cy="218.00" r="1.25" fill="none" stroke="#000" stroke-width="0.75"/>
<circle cx="359.20" cy="220.40" r="1.25" fill="none" stroke="#000" stroke-width="0.75"/>
<circle cx="350.40" cy="223.10" r="1.25" fill="none" stroke="#000" stroke-width="0.75"/>
<circle cx="359.20" cy="225.40" r="1.25" fill="none" stroke="#000" stroke-width="0.75"/>
<circle cx="352.60" cy="226.40" r="1.25" fill="none" stroke="#000" stroke-width="0.75"/>
<circle cx="345.00" cy="226.40" r="1.25" fill="none" stroke="#000" stroke-width="0.75"/>
<circle cx="345.90" cy="227.60" r="1.25" fill="none" stroke="#000" stroke-width="0.75"/>
<circle cx="346.70" cy="228.40" r="1.25" fill="none" stroke="#000" stroke-width="0.75"/>
<circle cx="348.00" cy="229.20" r="1.25" fill="none" stroke="#000" stroke-width="0.75"/>
<circle cx="347.50" cy="230.10" r="1.25" fill="none" stroke="#000" stroke-width="0.75"/>
<circle cx="351.70" cy="230.10" r="1.25" fill="none" stroke="#000" stroke-width="0.75"/>
<circle cx="352.60" cy="231.80" r="1.25" fill="none" stroke="#000" stroke-width="0.75"/>
<circle cx="350.90" cy="231.80" r="1.25" fill="none" stroke="#000" stroke-width="0.75"/>
<circle cx="356.70" cy="230.10" r="1.25" fill="none" stroke="#000" stroke-width="0.75"/>
<circle cx="345.00" cy="236.80" r="1.25" fill="none" stroke="#000" stroke-width="0.75"/>
<circle cx="346.70" cy="237.10" r="1.25" fill="none" stroke="#000" stroke-width="0.75"/>
<circle cx="352.60" cy="235.10" r="1.25" fill="none" stroke="#000" stroke-width="0.75"/>
<circle cx="352.60" cy="236.40" r="1.25" fill="none" stroke="#000" stroke-width="0.75"/>
<circle cx="368.40" cy="231.80" r="1.25" fill="none" stroke="#000" stroke-width="0.75"/>
<circle cx="382.20" cy="230.90" r="1.25" fill="none" stroke="#000" stroke-width="0.75"/>
<circle cx="368.40" cy="237.60" r="1.25" fill="none" stroke="#000" stroke-width="0.75"/>
<circle cx="365.90" cy="241.00" r="1.25" fill="none" stroke="#000" stroke-width="0.75"/>
<circle cx="352.60" cy="242.60" r="1.25" fill="none" stroke="#000" stroke-width="0.75"/>
<circle cx="356.70" cy="242.60" r="1.25" fill="none" stroke="#000" stroke-width="0.75"/>
<circle cx="356.70" cy="246.00" r="1.25" fill="none" stroke="#000" stroke-width="0.75"/>
<circle cx="360.90" cy="244.30" r="1.25" fill="none" stroke="#000" stroke-width="0.75"/>
<circle cx="345.90" cy="246.00" r="1.25" fill="none" stroke="#000" stroke-width="0.75"/>
<circle cx="345.90" cy="247.60" r="1.25" fill="none" stroke="#000" stroke-width="0.75"/>
<circle cx="345.90" cy="248.80" r="1.25" fill="none" stroke="#000" stroke-width="0.75"/>
<circle cx="395.40" cy="218.00" r="1.25" fill="none" stroke="#000" stroke-width="0.75"/>
<circle cx="390.90" cy="221.40" r="1.25" fill="none" stroke="#000" stroke-width="0.75"/>
<circle cx="400.10" cy="218.40" r="1.25" fill="none" stroke="#000" stroke-width="0.75"/>
<circle cx="402.20" cy="220.90" r="1.25" fill="none" stroke="#000" stroke-width="0.75"/>
<circle cx="397.90" cy="224.70" r="1.25" fill="none" stroke="#000" stroke-width="0.75"/>
<circle cx="382.00" cy="231.30" r="1.25" fill="none" stroke="#000" stroke-width="0.75"/>
<circle cx="400.10" cy="232.30" r="1.25" fill="none" stroke="#000" stroke-width="0.75"/>
<circle cx="388.70" cy="235.90" r="1.25" fill="none" stroke="#000" stroke-width="0.75"/>
<circle cx="391.20" cy="239.30" r="1.25" fill="none" stroke="#000" stroke-width="0.75"/>
<circle cx="395.60" cy="238.00" r="1.25" fill="none" stroke="#000" stroke-width="0.75"/>
<circle cx="409.30" cy="226.20" r="1.25" fill="none" stroke="#000" stroke-width="0.75"/>
<circle cx="411.80" cy="227.20" r="1.25" fill="none" stroke="#000" stroke-width="0.75"/>
<circle cx="413.40" cy="234.30" r="1.25" fill="none" stroke="#000" stroke-width="0.75"/>
<circle cx="418.10" cy="225.90" r="1.25" fill="none" stroke="#000" stroke-width="0.75"/>
<circle cx="420.50" cy="223.40" r="1.25" fill="none" stroke="#000" stroke-width="0.75"/>
<circle cx="427.30" cy="223.40" r="1.25" fill="none" stroke="#000" stroke-width="0.75"/>
<circle cx="429.00" cy="230.40" r="1.25" fill="none" stroke="#000" stroke-width="0.75"/>
<circle cx="434.00" cy="223.10" r="1.25" fill="none" stroke="#000" stroke-width="0.75"/>
<circle cx="438.50" cy="231.40" r="1.25" fill="none" stroke="#000" stroke-width="0.75"/>
<defs><radialGradient id="bg" cx="50%" cy="42%" r="56%"><stop offset="0" stop-color="#f1f1f1"/><stop offset="0.7" stop-color="#eaeaea"/><stop offset="0.92" stop-color="#dedede"/><stop offset="1" stop-color="#cfcfcf"/></radialGradient><filter id="bl" x="-10%" y="-10%" width="120%" height="120%"><feGaussianBlur stdDeviation="0.7"/></filter><filter id="bl2" x="-10%" y="-10%" width="120%" height="120%"><feGaussianBlur stdDeviation="1.2"/></filter><filter id="bl3" x="-20%" y="-20%" width="140%" height="140%"><feGaussianBlur stdDeviation="0.9"/></filter><radialGradient id="db" cx="38%" cy="35%" r="65%"><stop offset="0" stop-color="#5a5aff"/><stop offset="0.45" stop-color="#0808e0"/><stop offset="1" stop-color="#00008a"/></radialGradient><radialGradient id="dn" cx="38%" cy="35%" r="65%"><stop offset="0" stop-color="#3a3ab0"/><stop offset="0.45" stop-color="#0a0a80"/><stop offset="1" stop-color="#000040"/></radialGradient><radialGradient id="di" cx="38%" cy="35%" r="65%"><stop offset="0" stop-color="#7070d0"/><stop offset="0.45" stop-color="#3838b0"/><stop offset="1" stop-color="#1a1a70"/></radialGradient><radialGradient id="dm" cx="38%" cy="35%" r="65%"><stop offset="0" stop-color="#6aa0ff"/><stop offset="0.45" stop-color="#1e6ae8"/><stop offset="1" stop-color="#0a3a90"/></radialGradient><radialGradient id="dlb" cx="38%" cy="35%" r="65%"><stop offset="0" stop-color="#c0ecff"/><stop offset="0.45" stop-color="#68c0f0"/><stop offset="1" stop-color="#2c80b8"/></radialGradient><radialGradient id="dc" cx="38%" cy="35%" r="65%"><stop offset="0" stop-color="#a0f8ff"/><stop offset="0.45" stop-color="#30d0f0"/><stop offset="1" stop-color="#1088a8"/></radialGradient><radialGradient id="dg" cx="38%" cy="35%" r="65%"><stop offset="0" stop-color="#d8ffd0"/><stop offset="0.45" stop-color="#8ee088"/><stop offset="1" stop-color="#4c9c4c"/></radialGradient><radialGradient id="dy" cx="38%" cy="35%" r="65%"><stop offset="0" stop-color="#fff8a0"/><stop offset="0.45" stop-color="#e8d020"/><stop offset="1" stop-color="#9a8a00"/></radialGradient><radialGradient id="dgold" cx="38%" cy="35%" r="65%"><stop offset="0" stop-color="#ffe890"/><stop offset="0.45" stop-color="#f0c000"/><stop offset="1" stop-color="#a07800"/></radialGradient><radialGradient id="dyg" cx="38%" cy="35%" r="65%"><stop offset="0" stop-color="#f0ffa0"/><stop offset="0.45" stop-color="#c8d830"/><stop offset="1" stop-color="#7a8a10"/></radialGradient><radialGradient id="dr" cx="38%" cy="35%" r="65%"><stop offset="0" stop-color="#d06060"/><stop offset="0.45" stop-color="#a01818"/><stop offset="1" stop-color="#500808"/></radialGradient><radialGradient id="dbr" cx="38%" cy="35%" r="65%"><stop offset="0" stop-color="#d09090"/><stop offset="0.45" stop-color="#a05858"/><stop offset="1" stop-color="#603030"/></radialGradient><radialGradient id="dsb" cx="38%" cy="35%" r="65%"><stop offset="0" stop-color="#80c8ff"/><stop offset="0.45" stop-color="#2090e8"/><stop offset="1" stop-color="#1060a0"/></radialGradient><radialGradient id="dc2" cx="38%" cy="35%" r="65%"><stop offset="0" stop-color="#a0e8ff"/><stop offset="0.45" stop-color="#30b4ee"/><stop offset="1" stop-color="#1070b0"/></radialGradient><radialGradient id="dpy" cx="38%" cy="35%" r="65%"><stop offset="0" stop-color="#fffae0"/><stop offset="0.45" stop-color="#f0e08a"/><stop offset="1" stop-color="#b0a050"/></radialGradient><clipPath id="cbTL"><path d="M508.5,39.8 C508.3,37.2 508.7,34.3 509.7,31.6 C510.7,28.9 512.4,25.9 514.4,23.4 C516.4,20.9 518.7,18.5 521.4,16.4 C524.1,14.2 527.3,12.1 530.8,10.5 C534.3,8.9 538.4,7.8 542.5,7.0 C546.6,6.2 551.5,5.8 555.4,5.9 C559.3,6.0 562.6,6.5 565.9,7.5 C569.2,8.6 572.6,10.3 575.3,12.2 C578.0,14.1 580.3,16.2 582.3,18.7 C584.3,21.2 586.1,23.9 587.5,27.0 C588.9,30.1 590.0,34.2 590.5,37.5 C591.0,40.8 591.0,44.5 590.5,46.9 C590.0,49.2 589.2,50.5 587.5,51.6 C585.8,52.7 582.8,52.8 580.0,53.4 C577.2,54.0 573.7,54.2 570.6,55.1 C567.5,56.0 564.3,57.3 561.2,58.6 C558.1,59.9 554.8,61.7 551.9,62.8 C549.0,63.9 546.2,64.9 543.7,65.2 C541.2,65.5 538.4,65.3 536.6,64.4 C534.8,63.5 533.5,61.5 533.1,59.8 C532.7,58.1 535.5,55.4 534.3,54.4 C533.1,53.4 529.0,54.4 526.1,53.9 C523.2,53.4 519.2,52.8 516.7,51.6 C514.2,50.4 512.3,48.9 510.9,46.9 C509.5,44.9 508.7,42.3 508.5,39.8Z"/></clipPath><clipPath id="cbTR"><path d="M600.9,46.9 C600.4,45.1 599.8,41.6 600.2,38.7 C600.6,35.8 601.5,32.4 603.2,29.3 C604.9,26.2 607.5,22.8 610.2,19.9 C612.9,17.0 616.1,13.8 619.6,11.7 C623.1,9.5 627.2,8.0 631.3,7.0 C635.4,6.0 640.1,5.8 644.2,5.9 C648.3,6.0 652.4,6.3 655.9,7.5 C659.4,8.7 662.6,10.8 665.3,12.9 C668.0,15.0 670.3,17.2 672.3,19.9 C674.2,22.6 675.8,26.2 677.0,29.3 C678.2,32.4 679.1,35.8 679.4,38.7 C679.7,41.6 679.5,44.6 678.9,46.9 C678.3,49.2 677.2,51.2 675.9,52.7 C674.6,54.2 673.0,55.4 671.2,56.2 C669.4,57.0 667.1,57.2 665.3,57.4 C663.4,57.6 661.4,56.8 660.1,57.4 C658.9,58.0 658.9,59.8 657.8,60.9 C656.7,62.0 655.3,63.1 653.6,63.7 C651.9,64.3 649.9,64.8 647.7,64.4 C645.6,64.0 643.2,62.6 640.7,61.4 C638.2,60.2 635.8,58.7 632.5,57.4 C629.2,56.1 624.7,54.4 620.8,53.4 C616.9,52.4 612.0,51.8 609.1,51.1 C606.2,50.4 604.6,49.9 603.2,49.2 C601.8,48.5 601.4,48.6 600.9,46.9Z"/></clipPath><clipPath id="cbBL"><path d="M509.2,112.9 C509.1,111.0 509.0,106.6 509.7,103.5 C510.4,100.4 511.6,97.0 513.2,94.1 C514.8,91.2 516.8,88.4 519.1,85.9 C521.5,83.4 524.4,81.0 527.3,78.9 C530.2,76.8 533.1,74.8 536.6,73.5 C540.1,72.2 544.3,71.5 548.4,71.2 C552.5,70.9 557.1,71.1 561.2,71.9 C565.3,72.7 569.7,74.0 573.0,75.8 C576.3,77.5 578.9,79.9 581.2,82.4 C583.5,84.9 585.5,87.7 587.0,90.6 C588.5,93.5 589.9,96.9 590.5,100.0 C591.1,103.1 591.1,106.9 590.5,109.4 C589.9,111.9 588.8,113.8 587.0,115.2 C585.2,116.6 582.5,117.3 580.0,118.0 C577.5,118.7 574.1,119.0 571.8,119.4 C569.5,119.8 567.6,119.6 566.4,120.4 C565.2,121.2 565.7,122.8 564.8,124.1 C563.9,125.4 562.8,127.0 561.2,128.1 C559.6,129.2 557.7,130.4 555.4,130.4 C553.1,130.4 550.5,129.1 547.2,128.1 C543.9,127.1 539.4,125.8 535.5,124.6 C531.6,123.4 527.2,122.2 523.7,121.1 C520.2,120.0 516.6,119.0 514.4,118.0 C512.1,117.0 511.1,116.0 510.2,115.2 C509.3,114.4 509.3,114.9 509.2,112.9Z"/></clipPath><clipPath id="cbBR"><path d="M600.2,110.7 C600.0,108.5 600.0,105.4 600.9,102.5 C601.8,99.6 603.5,96.0 605.5,93.1 C607.5,90.2 609.9,87.4 612.6,84.9 C615.4,82.4 618.5,79.9 622.0,77.9 C625.5,76.0 629.8,74.2 633.7,73.2 C637.6,72.2 641.9,71.6 645.4,71.6 C648.9,71.6 652.1,72.2 654.8,73.2 C657.5,74.2 659.7,76.0 661.8,77.9 C663.9,79.9 665.9,82.4 667.6,84.9 C669.4,87.4 670.7,90.2 672.3,93.1 C673.9,96.0 675.8,99.6 677.0,102.5 C678.2,105.4 679.2,108.5 679.4,110.7 C679.6,112.9 679.2,114.2 678.2,115.4 C677.2,116.6 676.0,116.9 673.5,117.7 C671.0,118.5 666.7,119.2 663.0,120.1 C659.3,121.0 655.1,121.9 651.2,123.1 C647.3,124.3 643.0,126.0 639.5,127.1 C636.0,128.2 632.6,129.3 630.2,129.4 C627.8,129.5 626.1,129.0 625.0,127.8 C623.9,126.6 625.1,123.5 623.6,122.4 C622.1,121.3 618.7,121.7 616.1,121.2 C613.5,120.7 610.2,120.4 607.9,119.4 C605.5,118.4 603.3,116.9 602.0,115.4 C600.7,114.0 600.4,112.9 600.2,110.7Z"/></clipPath><clipPath id="ceTL"><path d="M508.5,194.2 C508.3,191.8 508.7,188.7 509.7,186.0 C510.7,183.3 512.2,180.4 514.4,177.8 C516.5,175.2 519.7,172.5 522.6,170.3 C525.5,168.2 528.5,166.3 532.0,164.9 C535.5,163.5 539.8,162.5 543.7,161.8 C547.6,161.1 551.7,160.8 555.4,160.9 C559.1,161.0 562.6,161.4 565.9,162.5 C569.2,163.6 572.6,165.2 575.3,167.2 C578.0,169.2 580.1,171.6 582.3,174.3 C584.4,177.0 586.7,180.3 588.2,183.6 C589.7,186.9 590.8,191.3 591.2,194.2 C591.6,197.1 591.2,199.3 590.5,201.2 C589.8,203.1 589.0,204.4 587.0,205.4 C585.0,206.4 581.7,206.4 578.8,207.1 C575.9,207.8 572.5,208.3 569.4,209.4 C566.3,210.5 563.2,212.1 560.1,213.4 C557.0,214.7 553.6,216.3 550.7,217.2 C547.8,218.1 545.0,218.7 542.5,218.8 C540.0,218.9 537.1,218.5 535.5,217.6 C533.9,216.7 533.0,215.0 532.7,213.4 C532.4,211.8 534.7,209.1 533.6,208.2 C532.5,207.3 528.9,208.3 526.1,207.8 C523.3,207.3 519.2,206.6 516.7,205.4 C514.2,204.2 512.3,202.6 510.9,200.7 C509.5,198.8 508.7,196.6 508.5,194.2Z"/></clipPath><clipPath id="ceTR"><path d="M600.2,196.9 C599.9,195.1 600.0,191.6 600.9,188.7 C601.8,185.8 603.5,182.2 605.5,179.3 C607.5,176.4 609.9,173.6 612.6,171.1 C615.4,168.6 618.7,165.9 622.0,164.1 C625.3,162.3 628.8,161.3 632.5,160.5 C636.2,159.7 640.3,159.3 644.2,159.4 C648.1,159.5 652.4,160.0 655.9,161.2 C659.4,162.4 662.6,164.4 665.3,166.4 C668.0,168.4 670.3,170.9 672.3,173.4 C674.2,175.9 675.8,178.9 677.0,181.6 C678.2,184.3 679.4,187.2 679.8,189.8 C680.2,192.4 680.0,194.8 679.4,196.9 C678.8,199.1 677.5,201.2 675.9,202.7 C674.3,204.2 672.1,205.2 670.0,205.8 C667.9,206.4 665.0,206.0 663.0,206.2 C661.0,206.3 659.4,206.0 658.3,206.7 C657.2,207.4 657.3,209.3 656.4,210.5 C655.5,211.7 654.5,212.9 653.1,213.7 C651.7,214.5 649.8,215.3 647.7,215.2 C645.6,215.0 643.6,214.0 640.7,212.8 C637.8,211.6 633.9,209.4 630.2,208.1 C626.5,206.8 622.1,206.0 618.4,205.1 C614.7,204.2 610.5,203.6 607.9,202.7 C605.2,201.8 603.8,200.7 602.5,199.7 C601.2,198.7 600.5,198.7 600.2,196.9Z"/></clipPath><clipPath id="ceBL"><path d="M509.7,264.5 C509.7,262.4 509.5,258.3 510.2,255.2 C510.9,252.1 512.2,248.7 513.9,245.8 C515.6,242.9 517.8,240.2 520.2,237.6 C522.6,235.0 525.3,232.4 528.4,230.5 C531.5,228.6 535.3,227.0 539.0,225.9 C542.7,224.8 546.8,224.3 550.7,224.2 C554.6,224.1 558.5,224.3 562.4,225.2 C566.3,226.1 570.8,227.5 574.1,229.4 C577.4,231.3 579.9,233.8 582.3,236.4 C584.6,239.1 586.7,242.2 588.2,245.3 C589.7,248.4 590.8,252.2 591.2,255.2 C591.6,258.2 591.2,261.1 590.5,263.4 C589.8,265.6 589.0,267.3 587.0,268.7 C585.0,270.1 581.5,270.9 578.8,271.6 C576.1,272.3 572.7,272.2 570.6,272.7 C568.5,273.2 567.2,273.4 566.4,274.4 C565.5,275.4 566.4,277.3 565.5,278.6 C564.6,279.9 563.1,281.2 561.2,282.1 C559.3,283.0 556.7,283.8 554.2,283.7 C551.7,283.6 549.3,282.4 546.0,281.4 C542.7,280.3 538.2,278.6 534.3,277.4 C530.4,276.1 526.0,275.1 522.6,273.9 C519.2,272.7 516.0,271.4 513.9,270.4 C511.8,269.4 510.9,269.0 510.2,268.0 C509.5,267.0 509.7,266.6 509.7,264.5Z"/></clipPath><clipPath id="ceBR"><path d="M600.2,255.2 C600.4,253.0 600.9,250.0 602.0,247.7 C603.1,245.3 604.8,243.3 606.7,241.1 C608.7,238.9 611.0,236.4 613.7,234.5 C616.4,232.6 619.6,230.8 623.1,229.4 C626.6,228.0 630.9,226.9 634.8,226.3 C638.7,225.7 643.1,225.7 646.6,225.9 C650.1,226.1 653.2,226.5 655.9,227.5 C658.6,228.5 660.9,230.0 663.0,231.7 C665.1,233.4 667.0,235.4 668.8,237.6 C670.5,239.8 672.0,242.1 673.5,244.6 C675.0,247.1 676.5,250.3 677.5,252.8 C678.5,255.3 679.3,257.9 679.4,259.8 C679.5,261.8 679.2,263.3 678.2,264.5 C677.2,265.7 675.6,266.1 673.5,266.9 C671.4,267.7 668.2,268.1 665.3,269.2 C662.4,270.3 659.4,272.0 655.9,273.4 C652.4,274.8 647.9,276.1 644.2,277.4 C640.5,278.7 636.6,280.7 633.7,281.4 C630.8,282.1 628.3,282.1 626.6,281.4 C624.9,280.7 624.0,278.8 623.6,277.4 C623.2,275.9 625.3,273.6 624.3,272.7 C623.2,271.8 619.8,272.5 617.3,272.0 C614.8,271.5 611.5,270.8 609.1,269.7 C606.8,268.6 604.6,267.1 603.2,265.7 C601.8,264.2 601.4,262.8 600.9,261.0 C600.4,259.2 600.0,257.4 600.2,255.2Z"/></clipPath></defs>
<path d="M508.5,39.8 C508.3,37.2 508.7,34.3 509.7,31.6 C510.7,28.9 512.4,25.9 514.4,23.4 C516.4,20.9 518.7,18.5 521.4,16.4 C524.1,14.2 527.3,12.1 530.8,10.5 C534.3,8.9 538.4,7.8 542.5,7.0 C546.6,6.2 551.5,5.8 555.4,5.9 C559.3,6.0 562.6,6.5 565.9,7.5 C569.2,8.6 572.6,10.3 575.3,12.2 C578.0,14.1 580.3,16.2 582.3,18.7 C584.3,21.2 586.1,23.9 587.5,27.0 C588.9,30.1 590.0,34.2 590.5,37.5 C591.0,40.8 591.0,44.5 590.5,46.9 C590.0,49.2 589.2,50.5 587.5,51.6 C585.8,52.7 582.8,52.8 580.0,53.4 C577.2,54.0 573.7,54.2 570.6,55.1 C567.5,56.0 564.3,57.3 561.2,58.6 C558.1,59.9 554.8,61.7 551.9,62.8 C549.0,63.9 546.2,64.9 543.7,65.2 C541.2,65.5 538.4,65.3 536.6,64.4 C534.8,63.5 533.5,61.5 533.1,59.8 C532.7,58.1 535.5,55.4 534.3,54.4 C533.1,53.4 529.0,54.4 526.1,53.9 C523.2,53.4 519.2,52.8 516.7,51.6 C514.2,50.4 512.3,48.9 510.9,46.9 C509.5,44.9 508.7,42.3 508.5,39.8Z" fill="url(#bg)"/>
<g clip-path="url(#cbTL)"><path d="M508.5,39.8 C508.3,37.2 508.7,34.3 509.7,31.6 C510.7,28.9 512.4,25.9 514.4,23.4 C516.4,20.9 518.7,18.5 521.4,16.4 C524.1,14.2 527.3,12.1 530.8,10.5 C534.3,8.9 538.4,7.8 542.5,7.0 C546.6,6.2 551.5,5.8 555.4,5.9 C559.3,6.0 562.6,6.5 565.9,7.5 C569.2,8.6 572.6,10.3 575.3,12.2 C578.0,14.1 580.3,16.2 582.3,18.7 C584.3,21.2 586.1,23.9 587.5,27.0 C588.9,30.1 590.0,34.2 590.5,37.5 C591.0,40.8 591.0,44.5 590.5,46.9 C590.0,49.2 589.2,50.5 587.5,51.6 C585.8,52.7 582.8,52.8 580.0,53.4 C577.2,54.0 573.7,54.2 570.6,55.1 C567.5,56.0 564.3,57.3 561.2,58.6 C558.1,59.9 554.8,61.7 551.9,62.8 C549.0,63.9 546.2,64.9 543.7,65.2 C541.2,65.5 538.4,65.3 536.6,64.4 C534.8,63.5 533.5,61.5 533.1,59.8 C532.7,58.1 535.5,55.4 534.3,54.4 C533.1,53.4 529.0,54.4 526.1,53.9 C523.2,53.4 519.2,52.8 516.7,51.6 C514.2,50.4 512.3,48.9 510.9,46.9 C509.5,44.9 508.7,42.3 508.5,39.8Z" fill="none" stroke="#cfcfcf" stroke-width="4" filter="url(#bl2)"/><path d="M551.8,12.3 C551.0,13.8 548.9,17.9 547.0,21.1 C545.0,24.4 541.3,30.2 540.2,32.0" fill="none" stroke="#d2d2d2" stroke-width="2.6" stroke-linecap="round" filter="url(#bl3)"/><path d="M551.8,12.3 C551.0,13.8 548.9,17.9 547.0,21.1 C545.0,24.4 541.3,30.2 540.2,32.0" fill="none" stroke="#c8c8c8" stroke-width="0.7" stroke-linecap="round" filter="url(#bl)"/><path d="M552.7,14.1 C551.9,15.6 549.8,19.7 547.9,22.9 C545.9,26.2 542.2,32.0 541.1,33.8" fill="none" stroke="#fafafa" stroke-width="1.8" stroke-linecap="round" filter="url(#bl3)"/><path d="M543.8,9.3 C542.5,11.3 538.5,16.7 536.1,21.1 C533.6,25.6 530.4,33.5 529.2,36.0" fill="none" stroke="#d2d2d2" stroke-width="2.6" stroke-linecap="round" filter="url(#bl3)"/><path d="M543.8,9.3 C542.5,11.3 538.5,16.7 536.1,21.1 C533.6,25.6 530.4,33.5 529.2,36.0" fill="none" stroke="#c8c8c8" stroke-width="0.7" stroke-linecap="round" filter="url(#bl)"/><path d="M544.7,11.1 C543.4,13.1 539.4,18.5 537.0,22.9 C534.5,27.4 531.3,35.3 530.1,37.8" fill="none" stroke="#fafafa" stroke-width="1.8" stroke-linecap="round" filter="url(#bl3)"/><path d="M514.7,29.0 C516.3,27.2 520.4,21.2 524.4,18.3 C528.4,15.3 536.4,12.5 538.8,11.3" fill="none" stroke="#d2d2d2" stroke-width="2.6" stroke-linecap="round" filter="url(#bl3)"/><path d="M514.7,29.0 C516.3,27.2 520.4,21.2 524.4,18.3 C528.4,15.3 536.4,12.5 538.8,11.3" fill="none" stroke="#c8c8c8" stroke-width="0.7" stroke-linecap="round" filter="url(#bl)"/><path d="M515.6,30.8 C517.2,29.0 521.3,23.0 525.3,20.1 C529.3,17.1 537.3,14.3 539.7,13.1" fill="none" stroke="#fafafa" stroke-width="1.8" stroke-linecap="round" filter="url(#bl3)"/><path d="M511.6,40.9 C513.2,39.7 517.6,35.4 521.3,33.9 C525.0,32.5 531.8,32.3 533.9,32.0" fill="none" stroke="#d2d2d2" stroke-width="2.6" stroke-linecap="round" filter="url(#bl3)"/><path d="M511.6,40.9 C513.2,39.7 517.6,35.4 521.3,33.9 C525.0,32.5 531.8,32.3 533.9,32.0" fill="none" stroke="#c8c8c8" stroke-width="0.7" stroke-linecap="round" filter="url(#bl)"/><path d="M512.5,42.7 C514.1,41.5 518.5,37.2 522.2,35.7 C525.9,34.3 532.7,34.1 534.8,33.8" fill="none" stroke="#fafafa" stroke-width="1.8" stroke-linecap="round" filter="url(#bl3)"/><path d="M535.9,52.7 C538.0,50.4 544.0,43.0 548.5,39.1 C553.1,35.2 558.6,31.6 563.1,29.1 C567.6,26.7 573.6,25.0 575.7,24.2" fill="none" stroke="#d2d2d2" stroke-width="2.6" stroke-linecap="round" filter="url(#bl3)"/><path d="M535.9,52.7 C538.0,50.4 544.0,43.0 548.5,39.1 C553.1,35.2 558.6,31.6 563.1,29.1 C567.6,26.7 573.6,25.0 575.7,24.2" fill="none" stroke="#c8c8c8" stroke-width="0.7" stroke-linecap="round" filter="url(#bl)"/><path d="M536.8,54.5 C538.9,52.2 544.9,44.8 549.4,40.9 C554.0,37.0 559.5,33.4 564.0,30.9 C568.5,28.5 574.5,26.8 576.6,26.0" fill="none" stroke="#fafafa" stroke-width="1.8" stroke-linecap="round" filter="url(#bl3)"/><path d="M543.8,60.6 C546.3,58.6 553.1,52.5 558.4,48.8 C563.8,45.0 570.9,40.4 575.7,37.9 C580.6,35.5 585.4,34.6 587.4,33.9" fill="none" stroke="#d2d2d2" stroke-width="2.6" stroke-linecap="round" filter="url(#bl3)"/><path d="M543.8,60.6 C546.3,58.6 553.1,52.5 558.4,48.8 C563.8,45.0 570.9,40.4 575.7,37.9 C580.6,35.5 585.4,34.6 587.4,33.9" fill="none" stroke="#c8c8c8" stroke-width="0.7" stroke-linecap="round" filter="url(#bl)"/><path d="M544.7,62.4 C547.2,60.4 554.0,54.3 559.3,50.6 C564.7,46.8 571.8,42.2 576.6,39.7 C581.5,37.3 586.3,36.4 588.3,35.7" fill="none" stroke="#fafafa" stroke-width="1.8" stroke-linecap="round" filter="url(#bl3)"/><path d="M558.3,16.3 C560.7,16.6 568.4,16.6 572.8,18.2 C577.1,19.9 582.5,24.8 584.4,26.1" fill="none" stroke="#d2d2d2" stroke-width="2.6" stroke-linecap="round" filter="url(#bl3)"/><path d="M558.3,16.3 C560.7,16.6 568.4,16.6 572.8,18.2 C577.1,19.9 582.5,24.8 584.4,26.1" fill="none" stroke="#c8c8c8" stroke-width="0.7" stroke-linecap="round" filter="url(#bl)"/><path d="M559.2,18.1 C561.6,18.4 569.3,18.4 573.7,20.0 C578.0,21.7 583.4,26.6 585.3,27.9" fill="none" stroke="#fafafa" stroke-width="1.8" stroke-linecap="round" filter="url(#bl3)"/><path d="M563.4,9.3 C562.5,11.3 560.1,17.5 558.4,21.1 C556.8,24.8 554.4,29.4 553.6,31.0" fill="none" stroke="#d2d2d2" stroke-width="2.6" stroke-linecap="round" filter="url(#bl3)"/><path d="M563.4,9.3 C562.5,11.3 560.1,17.5 558.4,21.1 C556.8,24.8 554.4,29.4 553.6,31.0" fill="none" stroke="#c8c8c8" stroke-width="0.7" stroke-linecap="round" filter="url(#bl)"/><path d="M564.3,11.1 C563.4,13.1 561.0,19.3 559.3,22.9 C557.7,26.6 555.3,31.2 554.5,32.8" fill="none" stroke="#fafafa" stroke-width="1.8" stroke-linecap="round" filter="url(#bl3)"/><path d="M549.5,64.0 C552.2,62.8 560.4,59.3 565.9,56.9 C571.4,54.5 579.6,51.0 582.3,49.8" fill="none" stroke="#d2d2d2" stroke-width="2.6" stroke-linecap="round" filter="url(#bl3)"/><path d="M549.5,64.0 C552.2,62.8 560.4,59.3 565.9,56.9 C571.4,54.5 579.6,51.0 582.3,49.8" fill="none" stroke="#c8c8c8" stroke-width="0.7" stroke-linecap="round" filter="url(#bl)"/><path d="M550.4,65.8 C553.1,64.6 561.3,61.1 566.8,58.7 C572.3,56.3 580.5,52.8 583.2,51.6" fill="none" stroke="#fafafa" stroke-width="1.8" stroke-linecap="round" filter="url(#bl3)"/></g>
<path d="M508.5,39.8 C508.3,37.2 508.7,34.3 509.7,31.6 C510.7,28.9 512.4,25.9 514.4,23.4 C516.4,20.9 518.7,18.5 521.4,16.4 C524.1,14.2 527.3,12.1 530.8,10.5 C534.3,8.9 538.4,7.8 542.5,7.0 C546.6,6.2 551.5,5.8 555.4,5.9 C559.3,6.0 562.6,6.5 565.9,7.5 C569.2,8.6 572.6,10.3 575.3,12.2 C578.0,14.1 580.3,16.2 582.3,18.7 C584.3,21.2 586.1,23.9 587.5,27.0 C588.9,30.1 590.0,34.2 590.5,37.5 C591.0,40.8 591.0,44.5 590.5,46.9 C590.0,49.2 589.2,50.5 587.5,51.6 C585.8,52.7 582.8,52.8 580.0,53.4 C577.2,54.0 573.7,54.2 570.6,55.1 C567.5,56.0 564.3,57.3 561.2,58.6 C558.1,59.9 554.8,61.7 551.9,62.8 C549.0,63.9 546.2,64.9 543.7,65.2 C541.2,65.5 538.4,65.3 536.6,64.4 C534.8,63.5 533.5,61.5 533.1,59.8 C532.7,58.1 535.5,55.4 534.3,54.4 C533.1,53.4 529.0,54.4 526.1,53.9 C523.2,53.4 519.2,52.8 516.7,51.6 C514.2,50.4 512.3,48.9 510.9,46.9 C509.5,44.9 508.7,42.3 508.5,39.8Z" fill="none" stroke="#c4c4c4" stroke-width="0.8"/>
<circle cx="521.8" cy="25.3" r="2.45" fill="url(#db)"/>
<circle cx="527.6" cy="21.3" r="2.45" fill="url(#di)"/>
<circle cx="552" cy="21.8" r="2.45" fill="url(#db)"/>
<circle cx="518.3" cy="44.3" r="2.45" fill="url(#db)"/>
<circle cx="547.3" cy="37.2" r="2.45" fill="url(#dg)"/>
<circle cx="560.4" cy="42.6" r="2.45" fill="url(#dy)"/>
<circle cx="578.3" cy="30.3" r="2.45" fill="url(#dgold)"/>
<circle cx="581.2" cy="32.8" r="2.45" fill="url(#dlb)"/>
<circle cx="586.3" cy="33.6" r="2.45" fill="url(#db)"/>
<circle cx="587.8" cy="49.9" r="2.45" fill="url(#db)"/>
<circle cx="563" cy="55.3" r="2.45" fill="url(#db)"/>
<circle cx="544" cy="62.8" r="2.45" fill="url(#db)"/>
<path d="M600.9,46.9 C600.4,45.1 599.8,41.6 600.2,38.7 C600.6,35.8 601.5,32.4 603.2,29.3 C604.9,26.2 607.5,22.8 610.2,19.9 C612.9,17.0 616.1,13.8 619.6,11.7 C623.1,9.5 627.2,8.0 631.3,7.0 C635.4,6.0 640.1,5.8 644.2,5.9 C648.3,6.0 652.4,6.3 655.9,7.5 C659.4,8.7 662.6,10.8 665.3,12.9 C668.0,15.0 670.3,17.2 672.3,19.9 C674.2,22.6 675.8,26.2 677.0,29.3 C678.2,32.4 679.1,35.8 679.4,38.7 C679.7,41.6 679.5,44.6 678.9,46.9 C678.3,49.2 677.2,51.2 675.9,52.7 C674.6,54.2 673.0,55.4 671.2,56.2 C669.4,57.0 667.1,57.2 665.3,57.4 C663.4,57.6 661.4,56.8 660.1,57.4 C658.9,58.0 658.9,59.8 657.8,60.9 C656.7,62.0 655.3,63.1 653.6,63.7 C651.9,64.3 649.9,64.8 647.7,64.4 C645.6,64.0 643.2,62.6 640.7,61.4 C638.2,60.2 635.8,58.7 632.5,57.4 C629.2,56.1 624.7,54.4 620.8,53.4 C616.9,52.4 612.0,51.8 609.1,51.1 C606.2,50.4 604.6,49.9 603.2,49.2 C601.8,48.5 601.4,48.6 600.9,46.9Z" fill="url(#bg)"/>
<g clip-path="url(#cbTR)"><path d="M600.9,46.9 C600.4,45.1 599.8,41.6 600.2,38.7 C600.6,35.8 601.5,32.4 603.2,29.3 C604.9,26.2 607.5,22.8 610.2,19.9 C612.9,17.0 616.1,13.8 619.6,11.7 C623.1,9.5 627.2,8.0 631.3,7.0 C635.4,6.0 640.1,5.8 644.2,5.9 C648.3,6.0 652.4,6.3 655.9,7.5 C659.4,8.7 662.6,10.8 665.3,12.9 C668.0,15.0 670.3,17.2 672.3,19.9 C674.2,22.6 675.8,26.2 677.0,29.3 C678.2,32.4 679.1,35.8 679.4,38.7 C679.7,41.6 679.5,44.6 678.9,46.9 C678.3,49.2 677.2,51.2 675.9,52.7 C674.6,54.2 673.0,55.4 671.2,56.2 C669.4,57.0 667.1,57.2 665.3,57.4 C663.4,57.6 661.4,56.8 660.1,57.4 C658.9,58.0 658.9,59.8 657.8,60.9 C656.7,62.0 655.3,63.1 653.6,63.7 C651.9,64.3 649.9,64.8 647.7,64.4 C645.6,64.0 643.2,62.6 640.7,61.4 C638.2,60.2 635.8,58.7 632.5,57.4 C629.2,56.1 624.7,54.4 620.8,53.4 C616.9,52.4 612.0,51.8 609.1,51.1 C606.2,50.4 604.6,49.9 603.2,49.2 C601.8,48.5 601.4,48.6 600.9,46.9Z" fill="none" stroke="#cfcfcf" stroke-width="4" filter="url(#bl2)"/><path d="M637.6,12.2 C638.4,13.7 640.4,17.7 642.3,20.9 C644.1,24.2 647.7,29.9 648.8,31.6" fill="none" stroke="#d2d2d2" stroke-width="2.6" stroke-linecap="round" filter="url(#bl3)"/><path d="M637.6,12.2 C638.4,13.7 640.4,17.7 642.3,20.9 C644.1,24.2 647.7,29.9 648.8,31.6" fill="none" stroke="#c8c8c8" stroke-width="0.7" stroke-linecap="round" filter="url(#bl)"/><path d="M638.5,14.0 C639.3,15.5 641.3,19.5 643.2,22.7 C645.0,26.0 648.6,31.7 649.7,33.4" fill="none" stroke="#fafafa" stroke-width="1.8" stroke-linecap="round" filter="url(#bl3)"/><path d="M645.3,9.3 C646.5,11.2 650.4,16.6 652.8,20.9 C655.1,25.3 658.3,33.1 659.4,35.6" fill="none" stroke="#d2d2d2" stroke-width="2.6" stroke-linecap="round" filter="url(#bl3)"/><path d="M645.3,9.3 C646.5,11.2 650.4,16.6 652.8,20.9 C655.1,25.3 658.3,33.1 659.4,35.6" fill="none" stroke="#c8c8c8" stroke-width="0.7" stroke-linecap="round" filter="url(#bl)"/><path d="M646.2,11.1 C647.4,13.0 651.3,18.4 653.7,22.7 C656.0,27.1 659.2,34.9 660.3,37.4" fill="none" stroke="#fafafa" stroke-width="1.8" stroke-linecap="round" filter="url(#bl3)"/><path d="M673.4,28.7 C671.8,27.0 667.9,21.0 664.0,18.1 C660.2,15.2 652.4,12.4 650.1,11.2" fill="none" stroke="#d2d2d2" stroke-width="2.6" stroke-linecap="round" filter="url(#bl3)"/><path d="M673.4,28.7 C671.8,27.0 667.9,21.0 664.0,18.1 C660.2,15.2 652.4,12.4 650.1,11.2" fill="none" stroke="#c8c8c8" stroke-width="0.7" stroke-linecap="round" filter="url(#bl)"/><path d="M674.3,30.5 C672.7,28.8 668.8,22.8 664.9,19.9 C661.1,17.0 653.3,14.2 651.0,13.0" fill="none" stroke="#fafafa" stroke-width="1.8" stroke-linecap="round" filter="url(#bl3)"/><path d="M676.4,40.4 C674.8,39.3 670.6,35.0 667.0,33.6 C663.5,32.1 656.9,32.0 654.8,31.6" fill="none" stroke="#d2d2d2" stroke-width="2.6" stroke-linecap="round" filter="url(#bl3)"/><path d="M676.4,40.4 C674.8,39.3 670.6,35.0 667.0,33.6 C663.5,32.1 656.9,32.0 654.8,31.6" fill="none" stroke="#c8c8c8" stroke-width="0.7" stroke-linecap="round" filter="url(#bl)"/><path d="M677.3,42.2 C675.7,41.1 671.5,36.8 667.9,35.4 C664.4,33.9 657.8,33.8 655.7,33.4" fill="none" stroke="#fafafa" stroke-width="1.8" stroke-linecap="round" filter="url(#bl3)"/><path d="M652.9,52.1 C650.9,49.8 645.1,42.5 640.8,38.7 C636.4,34.8 631.0,31.3 626.7,28.8 C622.3,26.4 616.5,24.8 614.5,24.0" fill="none" stroke="#d2d2d2" stroke-width="2.6" stroke-linecap="round" filter="url(#bl3)"/><path d="M652.9,52.1 C650.9,49.8 645.1,42.5 640.8,38.7 C636.4,34.8 631.0,31.3 626.7,28.8 C622.3,26.4 616.5,24.8 614.5,24.0" fill="none" stroke="#c8c8c8" stroke-width="0.7" stroke-linecap="round" filter="url(#bl)"/><path d="M653.8,53.9 C651.8,51.6 646.0,44.3 641.7,40.5 C637.3,36.6 631.9,33.1 627.6,30.6 C623.2,28.2 617.4,26.6 615.4,25.8" fill="none" stroke="#fafafa" stroke-width="1.8" stroke-linecap="round" filter="url(#bl3)"/><path d="M645.3,59.8 C642.9,57.9 636.3,51.9 631.2,48.2 C626.0,44.5 619.1,39.9 614.5,37.5 C609.8,35.1 605.1,34.2 603.2,33.6" fill="none" stroke="#d2d2d2" stroke-width="2.6" stroke-linecap="round" filter="url(#bl3)"/><path d="M645.3,59.8 C642.9,57.9 636.3,51.9 631.2,48.2 C626.0,44.5 619.1,39.9 614.5,37.5 C609.8,35.1 605.1,34.2 603.2,33.6" fill="none" stroke="#c8c8c8" stroke-width="0.7" stroke-linecap="round" filter="url(#bl)"/><path d="M646.2,61.6 C643.8,59.7 637.2,53.7 632.1,50.0 C626.9,46.3 620.0,41.7 615.4,39.3 C610.7,36.9 606.0,36.0 604.1,35.4" fill="none" stroke="#fafafa" stroke-width="1.8" stroke-linecap="round" filter="url(#bl3)"/><path d="M631.3,16.1 C629.0,16.5 621.5,16.4 617.3,18.1 C613.1,19.7 607.9,24.6 606.1,25.8" fill="none" stroke="#d2d2d2" stroke-width="2.6" stroke-linecap="round" filter="url(#bl3)"/><path d="M631.3,16.1 C629.0,16.5 621.5,16.4 617.3,18.1 C613.1,19.7 607.9,24.6 606.1,25.8" fill="none" stroke="#c8c8c8" stroke-width="0.7" stroke-linecap="round" filter="url(#bl)"/><path d="M632.2,17.9 C629.9,18.3 622.4,18.2 618.2,19.9 C614.0,21.5 608.8,26.4 607.0,27.6" fill="none" stroke="#fafafa" stroke-width="1.8" stroke-linecap="round" filter="url(#bl3)"/><path d="M626.4,9.3 C627.2,11.2 629.6,17.4 631.2,20.9 C632.7,24.5 635.1,29.1 635.8,30.7" fill="none" stroke="#d2d2d2" stroke-width="2.6" stroke-linecap="round" filter="url(#bl3)"/><path d="M626.4,9.3 C627.2,11.2 629.6,17.4 631.2,20.9 C632.7,24.5 635.1,29.1 635.8,30.7" fill="none" stroke="#c8c8c8" stroke-width="0.7" stroke-linecap="round" filter="url(#bl)"/><path d="M627.3,11.1 C628.1,13.0 630.5,19.2 632.1,22.7 C633.6,26.3 636.0,30.9 636.7,32.5" fill="none" stroke="#fafafa" stroke-width="1.8" stroke-linecap="round" filter="url(#bl3)"/><path d="M639.8,63.2 C637.2,62.1 629.2,58.5 624.0,56.2 C618.7,53.9 610.8,50.4 608.1,49.2" fill="none" stroke="#d2d2d2" stroke-width="2.6" stroke-linecap="round" filter="url(#bl3)"/><path d="M639.8,63.2 C637.2,62.1 629.2,58.5 624.0,56.2 C618.7,53.9 610.8,50.4 608.1,49.2" fill="none" stroke="#c8c8c8" stroke-width="0.7" stroke-linecap="round" filter="url(#bl)"/><path d="M640.7,65.0 C638.1,63.9 630.1,60.3 624.9,58.0 C619.6,55.7 611.7,52.2 609.0,51.0" fill="none" stroke="#fafafa" stroke-width="1.8" stroke-linecap="round" filter="url(#bl3)"/></g>
<path d="M600.9,46.9 C600.4,45.1 599.8,41.6 600.2,38.7 C600.6,35.8 601.5,32.4 603.2,29.3 C604.9,26.2 607.5,22.8 610.2,19.9 C612.9,17.0 616.1,13.8 619.6,11.7 C623.1,9.5 627.2,8.0 631.3,7.0 C635.4,6.0 640.1,5.8 644.2,5.9 C648.3,6.0 652.4,6.3 655.9,7.5 C659.4,8.7 662.6,10.8 665.3,12.9 C668.0,15.0 670.3,17.2 672.3,19.9 C674.2,22.6 675.8,26.2 677.0,29.3 C678.2,32.4 679.1,35.8 679.4,38.7 C679.7,41.6 679.5,44.6 678.9,46.9 C678.3,49.2 677.2,51.2 675.9,52.7 C674.6,54.2 673.0,55.4 671.2,56.2 C669.4,57.0 667.1,57.2 665.3,57.4 C663.4,57.6 661.4,56.8 660.1,57.4 C658.9,58.0 658.9,59.8 657.8,60.9 C656.7,62.0 655.3,63.1 653.6,63.7 C651.9,64.3 649.9,64.8 647.7,64.4 C645.6,64.0 643.2,62.6 640.7,61.4 C638.2,60.2 635.8,58.7 632.5,57.4 C629.2,56.1 624.7,54.4 620.8,53.4 C616.9,52.4 612.0,51.8 609.1,51.1 C606.2,50.4 604.6,49.9 603.2,49.2 C601.8,48.5 601.4,48.6 600.9,46.9Z" fill="none" stroke="#c4c4c4" stroke-width="0.8"/>
<circle cx="638.7" cy="15.9" r="2.45" fill="url(#db)"/>
<circle cx="622.1" cy="21.5" r="2.45" fill="url(#db)"/>
<circle cx="627.5" cy="20.6" r="2.45" fill="url(#db)"/>
<circle cx="649" cy="19.9" r="2.45" fill="url(#db)"/>
<circle cx="606.4" cy="36.8" r="2.45" fill="url(#dc2)"/>
<circle cx="612.7" cy="37.7" r="2.45" fill="url(#dbr)"/>
<circle cx="615.8" cy="42.4" r="2.45" fill="url(#dn)"/>
<circle cx="605.7" cy="44" r="2.45" fill="url(#dc2)"/>
<circle cx="603.3" cy="47.1" r="2.45" fill="url(#dn)"/>
<circle cx="630.3" cy="49.6" r="2.45" fill="url(#db)"/>
<circle cx="664.7" cy="44" r="2.45" fill="url(#db)"/>
<circle cx="669.4" cy="55.5" r="2.45" fill="url(#db)"/>
<path d="M509.2,112.9 C509.1,111.0 509.0,106.6 509.7,103.5 C510.4,100.4 511.6,97.0 513.2,94.1 C514.8,91.2 516.8,88.4 519.1,85.9 C521.5,83.4 524.4,81.0 527.3,78.9 C530.2,76.8 533.1,74.8 536.6,73.5 C540.1,72.2 544.3,71.5 548.4,71.2 C552.5,70.9 557.1,71.1 561.2,71.9 C565.3,72.7 569.7,74.0 573.0,75.8 C576.3,77.5 578.9,79.9 581.2,82.4 C583.5,84.9 585.5,87.7 587.0,90.6 C588.5,93.5 589.9,96.9 590.5,100.0 C591.1,103.1 591.1,106.9 590.5,109.4 C589.9,111.9 588.8,113.8 587.0,115.2 C585.2,116.6 582.5,117.3 580.0,118.0 C577.5,118.7 574.1,119.0 571.8,119.4 C569.5,119.8 567.6,119.6 566.4,120.4 C565.2,121.2 565.7,122.8 564.8,124.1 C563.9,125.4 562.8,127.0 561.2,128.1 C559.6,129.2 557.7,130.4 555.4,130.4 C553.1,130.4 550.5,129.1 547.2,128.1 C543.9,127.1 539.4,125.8 535.5,124.6 C531.6,123.4 527.2,122.2 523.7,121.1 C520.2,120.0 516.6,119.0 514.4,118.0 C512.1,117.0 511.1,116.0 510.2,115.2 C509.3,114.4 509.3,114.9 509.2,112.9Z" fill="url(#bg)"/>
<g clip-path="url(#cbBL)"><path d="M509.2,112.9 C509.1,111.0 509.0,106.6 509.7,103.5 C510.4,100.4 511.6,97.0 513.2,94.1 C514.8,91.2 516.8,88.4 519.1,85.9 C521.5,83.4 524.4,81.0 527.3,78.9 C530.2,76.8 533.1,74.8 536.6,73.5 C540.1,72.2 544.3,71.5 548.4,71.2 C552.5,70.9 557.1,71.1 561.2,71.9 C565.3,72.7 569.7,74.0 573.0,75.8 C576.3,77.5 578.9,79.9 581.2,82.4 C583.5,84.9 585.5,87.7 587.0,90.6 C588.5,93.5 589.9,96.9 590.5,100.0 C591.1,103.1 591.1,106.9 590.5,109.4 C589.9,111.9 588.8,113.8 587.0,115.2 C585.2,116.6 582.5,117.3 580.0,118.0 C577.5,118.7 574.1,119.0 571.8,119.4 C569.5,119.8 567.6,119.6 566.4,120.4 C565.2,121.2 565.7,122.8 564.8,124.1 C563.9,125.4 562.8,127.0 561.2,128.1 C559.6,129.2 557.7,130.4 555.4,130.4 C553.1,130.4 550.5,129.1 547.2,128.1 C543.9,127.1 539.4,125.8 535.5,124.6 C531.6,123.4 527.2,122.2 523.7,121.1 C520.2,120.0 516.6,119.0 514.4,118.0 C512.1,117.0 511.1,116.0 510.2,115.2 C509.3,114.4 509.3,114.9 509.2,112.9Z" fill="none" stroke="#cfcfcf" stroke-width="4" filter="url(#bl2)"/><path d="M547.6,77.6 C548.4,79.1 550.4,83.1 552.4,86.4 C554.3,89.7 558.0,95.4 559.1,97.2" fill="none" stroke="#d2d2d2" stroke-width="2.6" stroke-linecap="round" filter="url(#bl3)"/><path d="M547.6,77.6 C548.4,79.1 550.4,83.1 552.4,86.4 C554.3,89.7 558.0,95.4 559.1,97.2" fill="none" stroke="#c8c8c8" stroke-width="0.7" stroke-linecap="round" filter="url(#bl)"/><path d="M548.5,79.4 C549.3,80.9 551.3,84.9 553.3,88.2 C555.2,91.5 558.9,97.2 560.0,99.0" fill="none" stroke="#fafafa" stroke-width="1.8" stroke-linecap="round" filter="url(#bl3)"/><path d="M555.5,74.6 C556.7,76.6 560.8,82.0 563.2,86.4 C565.6,90.8 568.8,98.7 569.9,101.2" fill="none" stroke="#d2d2d2" stroke-width="2.6" stroke-linecap="round" filter="url(#bl3)"/><path d="M555.5,74.6 C556.7,76.6 560.8,82.0 563.2,86.4 C565.6,90.8 568.8,98.7 569.9,101.2" fill="none" stroke="#c8c8c8" stroke-width="0.7" stroke-linecap="round" filter="url(#bl)"/><path d="M556.4,76.4 C557.6,78.4 561.7,83.8 564.1,88.2 C566.5,92.6 569.7,100.5 570.8,103.0" fill="none" stroke="#fafafa" stroke-width="1.8" stroke-linecap="round" filter="url(#bl3)"/><path d="M584.3,94.3 C582.7,92.5 578.7,86.5 574.7,83.6 C570.7,80.6 562.8,77.8 560.4,76.6" fill="none" stroke="#d2d2d2" stroke-width="2.6" stroke-linecap="round" filter="url(#bl3)"/><path d="M584.3,94.3 C582.7,92.5 578.7,86.5 574.7,83.6 C570.7,80.6 562.8,77.8 560.4,76.6" fill="none" stroke="#c8c8c8" stroke-width="0.7" stroke-linecap="round" filter="url(#bl)"/><path d="M585.2,96.1 C583.6,94.3 579.6,88.3 575.6,85.4 C571.6,82.4 563.7,79.6 561.3,78.4" fill="none" stroke="#fafafa" stroke-width="1.8" stroke-linecap="round" filter="url(#bl3)"/><path d="M587.4,106.1 C585.8,105.0 581.5,100.7 577.8,99.2 C574.1,97.7 567.4,97.6 565.3,97.2" fill="none" stroke="#d2d2d2" stroke-width="2.6" stroke-linecap="round" filter="url(#bl3)"/><path d="M587.4,106.1 C585.8,105.0 581.5,100.7 577.8,99.2 C574.1,97.7 567.4,97.6 565.3,97.2" fill="none" stroke="#c8c8c8" stroke-width="0.7" stroke-linecap="round" filter="url(#bl)"/><path d="M588.3,107.9 C586.7,106.8 582.4,102.5 578.7,101.0 C575.0,99.5 568.3,99.4 566.2,99.0" fill="none" stroke="#fafafa" stroke-width="1.8" stroke-linecap="round" filter="url(#bl3)"/><path d="M563.3,117.9 C561.3,115.6 555.3,108.3 550.8,104.4 C546.3,100.4 540.9,96.9 536.4,94.4 C531.9,91.9 525.9,90.3 523.8,89.5" fill="none" stroke="#d2d2d2" stroke-width="2.6" stroke-linecap="round" filter="url(#bl3)"/><path d="M563.3,117.9 C561.3,115.6 555.3,108.3 550.8,104.4 C546.3,100.4 540.9,96.9 536.4,94.4 C531.9,91.9 525.9,90.3 523.8,89.5" fill="none" stroke="#c8c8c8" stroke-width="0.7" stroke-linecap="round" filter="url(#bl)"/><path d="M564.2,119.7 C562.2,117.4 556.2,110.1 551.7,106.2 C547.2,102.2 541.8,98.7 537.3,96.2 C532.8,93.7 526.8,92.1 524.7,91.3" fill="none" stroke="#fafafa" stroke-width="1.8" stroke-linecap="round" filter="url(#bl3)"/><path d="M555.5,125.8 C553.0,123.8 546.3,117.8 541.0,114.0 C535.7,110.2 528.6,105.6 523.8,103.2 C519.1,100.7 514.2,99.9 512.3,99.2" fill="none" stroke="#d2d2d2" stroke-width="2.6" stroke-linecap="round" filter="url(#bl3)"/><path d="M555.5,125.8 C553.0,123.8 546.3,117.8 541.0,114.0 C535.7,110.2 528.6,105.6 523.8,103.2 C519.1,100.7 514.2,99.9 512.3,99.2" fill="none" stroke="#c8c8c8" stroke-width="0.7" stroke-linecap="round" filter="url(#bl)"/><path d="M556.4,127.6 C553.9,125.6 547.2,119.6 541.9,115.8 C536.6,112.0 529.5,107.4 524.7,105.0 C520.0,102.5 515.1,101.7 513.2,101.0" fill="none" stroke="#fafafa" stroke-width="1.8" stroke-linecap="round" filter="url(#bl3)"/><path d="M541.2,81.6 C538.8,81.9 531.1,81.9 526.8,83.5 C522.4,85.2 517.1,90.1 515.2,91.4" fill="none" stroke="#d2d2d2" stroke-width="2.6" stroke-linecap="round" filter="url(#bl3)"/><path d="M541.2,81.6 C538.8,81.9 531.1,81.9 526.8,83.5 C522.4,85.2 517.1,90.1 515.2,91.4" fill="none" stroke="#c8c8c8" stroke-width="0.7" stroke-linecap="round" filter="url(#bl)"/><path d="M542.1,83.4 C539.7,83.7 532.0,83.7 527.7,85.3 C523.3,87.0 518.0,91.9 516.1,93.2" fill="none" stroke="#fafafa" stroke-width="1.8" stroke-linecap="round" filter="url(#bl3)"/><path d="M536.1,74.6 C536.9,76.6 539.4,82.8 541.0,86.4 C542.6,90.0 545.0,94.7 545.8,96.3" fill="none" stroke="#d2d2d2" stroke-width="2.6" stroke-linecap="round" filter="url(#bl3)"/><path d="M536.1,74.6 C536.9,76.6 539.4,82.8 541.0,86.4 C542.6,90.0 545.0,94.7 545.8,96.3" fill="none" stroke="#c8c8c8" stroke-width="0.7" stroke-linecap="round" filter="url(#bl)"/><path d="M537.0,76.4 C537.8,78.4 540.3,84.6 541.9,88.2 C543.5,91.8 545.9,96.5 546.7,98.1" fill="none" stroke="#fafafa" stroke-width="1.8" stroke-linecap="round" filter="url(#bl3)"/><path d="M549.9,129.2 C547.1,128.0 539.0,124.5 533.6,122.1 C528.2,119.7 520.0,116.2 517.3,115.0" fill="none" stroke="#d2d2d2" stroke-width="2.6" stroke-linecap="round" filter="url(#bl3)"/><path d="M549.9,129.2 C547.1,128.0 539.0,124.5 533.6,122.1 C528.2,119.7 520.0,116.2 517.3,115.0" fill="none" stroke="#c8c8c8" stroke-width="0.7" stroke-linecap="round" filter="url(#bl)"/><path d="M550.8,131.0 C548.0,129.8 539.9,126.3 534.5,123.9 C529.1,121.5 520.9,118.0 518.2,116.8" fill="none" stroke="#fafafa" stroke-width="1.8" stroke-linecap="round" filter="url(#bl3)"/></g>
<path d="M509.2,112.9 C509.1,111.0 509.0,106.6 509.7,103.5 C510.4,100.4 511.6,97.0 513.2,94.1 C514.8,91.2 516.8,88.4 519.1,85.9 C521.5,83.4 524.4,81.0 527.3,78.9 C530.2,76.8 533.1,74.8 536.6,73.5 C540.1,72.2 544.3,71.5 548.4,71.2 C552.5,70.9 557.1,71.1 561.2,71.9 C565.3,72.7 569.7,74.0 573.0,75.8 C576.3,77.5 578.9,79.9 581.2,82.4 C583.5,84.9 585.5,87.7 587.0,90.6 C588.5,93.5 589.9,96.9 590.5,100.0 C591.1,103.1 591.1,106.9 590.5,109.4 C589.9,111.9 588.8,113.8 587.0,115.2 C585.2,116.6 582.5,117.3 580.0,118.0 C577.5,118.7 574.1,119.0 571.8,119.4 C569.5,119.8 567.6,119.6 566.4,120.4 C565.2,121.2 565.7,122.8 564.8,124.1 C563.9,125.4 562.8,127.0 561.2,128.1 C559.6,129.2 557.7,130.4 555.4,130.4 C553.1,130.4 550.5,129.1 547.2,128.1 C543.9,127.1 539.4,125.8 535.5,124.6 C531.6,123.4 527.2,122.2 523.7,121.1 C520.2,120.0 516.6,119.0 514.4,118.0 C512.1,117.0 511.1,116.0 510.2,115.2 C509.3,114.4 509.3,114.9 509.2,112.9Z" fill="none" stroke="#c4c4c4" stroke-width="0.8"/>
<circle cx="546.8" cy="87.2" r="2.45" fill="url(#dm)"/>
<circle cx="570.9" cy="86.4" r="2.45" fill="url(#db)"/>
<circle cx="577.5" cy="90.9" r="2.45" fill="url(#db)"/>
<circle cx="512.8" cy="99.2" r="2.45" fill="url(#db)"/>
<circle cx="521.4" cy="96" r="2.45" fill="url(#dpy)"/>
<circle cx="517.6" cy="98.4" r="2.45" fill="url(#dsb)"/>
<circle cx="551.6" cy="103.2" r="2.45" fill="url(#dg)"/>
<circle cx="538.2" cy="108" r="2.45" fill="url(#dy)"/>
<circle cx="580.2" cy="109.9" r="2.45" fill="url(#dm)"/>
<circle cx="510.7" cy="115.3" r="2.45" fill="url(#db)"/>
<circle cx="535.6" cy="120.9" r="2.45" fill="url(#db)"/>
<circle cx="554.8" cy="128.1" r="2.45" fill="url(#db)"/>
<path d="M600.2,110.7 C600.0,108.5 600.0,105.4 600.9,102.5 C601.8,99.6 603.5,96.0 605.5,93.1 C607.5,90.2 609.9,87.4 612.6,84.9 C615.4,82.4 618.5,79.9 622.0,77.9 C625.5,76.0 629.8,74.2 633.7,73.2 C637.6,72.2 641.9,71.6 645.4,71.6 C648.9,71.6 652.1,72.2 654.8,73.2 C657.5,74.2 659.7,76.0 661.8,77.9 C663.9,79.9 665.9,82.4 667.6,84.9 C669.4,87.4 670.7,90.2 672.3,93.1 C673.9,96.0 675.8,99.6 677.0,102.5 C678.2,105.4 679.2,108.5 679.4,110.7 C679.6,112.9 679.2,114.2 678.2,115.4 C677.2,116.6 676.0,116.9 673.5,117.7 C671.0,118.5 666.7,119.2 663.0,120.1 C659.3,121.0 655.1,121.9 651.2,123.1 C647.3,124.3 643.0,126.0 639.5,127.1 C636.0,128.2 632.6,129.3 630.2,129.4 C627.8,129.5 626.1,129.0 625.0,127.8 C623.9,126.6 625.1,123.5 623.6,122.4 C622.1,121.3 618.7,121.7 616.1,121.2 C613.5,120.7 610.2,120.4 607.9,119.4 C605.5,118.4 603.3,116.9 602.0,115.4 C600.7,114.0 600.4,112.9 600.2,110.7Z" fill="url(#bg)"/>
<g clip-path="url(#cbBR)"><path d="M600.2,110.7 C600.0,108.5 600.0,105.4 600.9,102.5 C601.8,99.6 603.5,96.0 605.5,93.1 C607.5,90.2 609.9,87.4 612.6,84.9 C615.4,82.4 618.5,79.9 622.0,77.9 C625.5,76.0 629.8,74.2 633.7,73.2 C637.6,72.2 641.9,71.6 645.4,71.6 C648.9,71.6 652.1,72.2 654.8,73.2 C657.5,74.2 659.7,76.0 661.8,77.9 C663.9,79.9 665.9,82.4 667.6,84.9 C669.4,87.4 670.7,90.2 672.3,93.1 C673.9,96.0 675.8,99.6 677.0,102.5 C678.2,105.4 679.2,108.5 679.4,110.7 C679.6,112.9 679.2,114.2 678.2,115.4 C677.2,116.6 676.0,116.9 673.5,117.7 C671.0,118.5 666.7,119.2 663.0,120.1 C659.3,121.0 655.1,121.9 651.2,123.1 C647.3,124.3 643.0,126.0 639.5,127.1 C636.0,128.2 632.6,129.3 630.2,129.4 C627.8,129.5 626.1,129.0 625.0,127.8 C623.9,126.6 625.1,123.5 623.6,122.4 C622.1,121.3 618.7,121.7 616.1,121.2 C613.5,120.7 610.2,120.4 607.9,119.4 C605.5,118.4 603.3,116.9 602.0,115.4 C600.7,114.0 600.4,112.9 600.2,110.7Z" fill="none" stroke="#cfcfcf" stroke-width="4" filter="url(#bl2)"/><path d="M642.0,77.8 C641.2,79.3 639.2,83.3 637.3,86.5 C635.5,89.7 631.9,95.3 630.8,97.0" fill="none" stroke="#d2d2d2" stroke-width="2.6" stroke-linecap="round" filter="url(#bl3)"/><path d="M642.0,77.8 C641.2,79.3 639.2,83.3 637.3,86.5 C635.5,89.7 631.9,95.3 630.8,97.0" fill="none" stroke="#c8c8c8" stroke-width="0.7" stroke-linecap="round" filter="url(#bl)"/><path d="M642.9,79.6 C642.1,81.1 640.1,85.1 638.2,88.3 C636.4,91.5 632.8,97.1 631.7,98.8" fill="none" stroke="#fafafa" stroke-width="1.8" stroke-linecap="round" filter="url(#bl3)"/><path d="M634.3,75.0 C633.1,76.9 629.2,82.1 626.8,86.5 C624.5,90.8 621.3,98.5 620.2,100.9" fill="none" stroke="#d2d2d2" stroke-width="2.6" stroke-linecap="round" filter="url(#bl3)"/><path d="M634.3,75.0 C633.1,76.9 629.2,82.1 626.8,86.5 C624.5,90.8 621.3,98.5 620.2,100.9" fill="none" stroke="#c8c8c8" stroke-width="0.7" stroke-linecap="round" filter="url(#bl)"/><path d="M635.2,76.8 C634.0,78.7 630.1,83.9 627.7,88.3 C625.4,92.6 622.2,100.3 621.1,102.7" fill="none" stroke="#fafafa" stroke-width="1.8" stroke-linecap="round" filter="url(#bl3)"/><path d="M606.2,94.1 C607.8,92.4 611.7,86.6 615.6,83.7 C619.4,80.8 627.2,78.0 629.5,76.9" fill="none" stroke="#d2d2d2" stroke-width="2.6" stroke-linecap="round" filter="url(#bl3)"/><path d="M606.2,94.1 C607.8,92.4 611.7,86.6 615.6,83.7 C619.4,80.8 627.2,78.0 629.5,76.9" fill="none" stroke="#c8c8c8" stroke-width="0.7" stroke-linecap="round" filter="url(#bl)"/><path d="M607.1,95.9 C608.7,94.2 612.6,88.4 616.5,85.5 C620.3,82.6 628.1,79.8 630.4,78.7" fill="none" stroke="#fafafa" stroke-width="1.8" stroke-linecap="round" filter="url(#bl3)"/><path d="M603.2,105.7 C604.8,104.6 609.0,100.4 612.6,98.9 C616.1,97.5 622.7,97.3 624.8,97.0" fill="none" stroke="#d2d2d2" stroke-width="2.6" stroke-linecap="round" filter="url(#bl3)"/><path d="M603.2,105.7 C604.8,104.6 609.0,100.4 612.6,98.9 C616.1,97.5 622.7,97.3 624.8,97.0" fill="none" stroke="#c8c8c8" stroke-width="0.7" stroke-linecap="round" filter="url(#bl)"/><path d="M604.1,107.5 C605.7,106.4 609.9,102.2 613.5,100.7 C617.0,99.3 623.6,99.1 625.7,98.8" fill="none" stroke="#fafafa" stroke-width="1.8" stroke-linecap="round" filter="url(#bl3)"/><path d="M626.7,117.2 C628.7,115.0 634.5,107.8 638.8,104.0 C643.2,100.1 648.6,96.7 652.9,94.3 C657.3,91.8 663.1,90.3 665.1,89.5" fill="none" stroke="#d2d2d2" stroke-width="2.6" stroke-linecap="round" filter="url(#bl3)"/><path d="M626.7,117.2 C628.7,115.0 634.5,107.8 638.8,104.0 C643.2,100.1 648.6,96.7 652.9,94.3 C657.3,91.8 663.1,90.3 665.1,89.5" fill="none" stroke="#c8c8c8" stroke-width="0.7" stroke-linecap="round" filter="url(#bl)"/><path d="M627.6,119.0 C629.6,116.8 635.4,109.6 639.7,105.8 C644.1,101.9 649.5,98.5 653.8,96.1 C658.2,93.6 664.0,92.1 666.0,91.3" fill="none" stroke="#fafafa" stroke-width="1.8" stroke-linecap="round" filter="url(#bl3)"/><path d="M634.3,124.9 C636.7,123.0 643.3,117.1 648.4,113.4 C653.6,109.7 660.5,105.2 665.1,102.8 C669.8,100.4 674.5,99.6 676.4,98.9" fill="none" stroke="#d2d2d2" stroke-width="2.6" stroke-linecap="round" filter="url(#bl3)"/><path d="M634.3,124.9 C636.7,123.0 643.3,117.1 648.4,113.4 C653.6,109.7 660.5,105.2 665.1,102.8 C669.8,100.4 674.5,99.6 676.4,98.9" fill="none" stroke="#c8c8c8" stroke-width="0.7" stroke-linecap="round" filter="url(#bl)"/><path d="M635.2,126.7 C637.6,124.8 644.2,118.9 649.3,115.2 C654.5,111.5 661.4,107.0 666.0,104.6 C670.7,102.2 675.4,101.4 677.3,100.7" fill="none" stroke="#fafafa" stroke-width="1.8" stroke-linecap="round" filter="url(#bl3)"/><path d="M648.3,81.7 C650.6,82.0 658.1,82.0 662.3,83.6 C666.5,85.2 671.7,90.0 673.5,91.3" fill="none" stroke="#d2d2d2" stroke-width="2.6" stroke-linecap="round" filter="url(#bl3)"/><path d="M648.3,81.7 C650.6,82.0 658.1,82.0 662.3,83.6 C666.5,85.2 671.7,90.0 673.5,91.3" fill="none" stroke="#c8c8c8" stroke-width="0.7" stroke-linecap="round" filter="url(#bl)"/><path d="M649.2,83.5 C651.5,83.8 659.0,83.8 663.2,85.4 C667.4,87.0 672.6,91.8 674.4,93.1" fill="none" stroke="#fafafa" stroke-width="1.8" stroke-linecap="round" filter="url(#bl3)"/><path d="M653.2,75.0 C652.4,76.9 650.0,82.9 648.4,86.5 C646.9,90.0 644.5,94.5 643.8,96.1" fill="none" stroke="#d2d2d2" stroke-width="2.6" stroke-linecap="round" filter="url(#bl3)"/><path d="M653.2,75.0 C652.4,76.9 650.0,82.9 648.4,86.5 C646.9,90.0 644.5,94.5 643.8,96.1" fill="none" stroke="#c8c8c8" stroke-width="0.7" stroke-linecap="round" filter="url(#bl)"/><path d="M654.1,76.8 C653.3,78.7 650.9,84.7 649.3,88.3 C647.8,91.8 645.4,96.3 644.7,97.9" fill="none" stroke="#fafafa" stroke-width="1.8" stroke-linecap="round" filter="url(#bl3)"/><path d="M639.8,128.2 C642.4,127.1 650.4,123.6 655.6,121.3 C660.9,119.0 668.8,115.5 671.5,114.4" fill="none" stroke="#d2d2d2" stroke-width="2.6" stroke-linecap="round" filter="url(#bl3)"/><path d="M639.8,128.2 C642.4,127.1 650.4,123.6 655.6,121.3 C660.9,119.0 668.8,115.5 671.5,114.4" fill="none" stroke="#c8c8c8" stroke-width="0.7" stroke-linecap="round" filter="url(#bl)"/><path d="M640.7,130.0 C643.3,128.9 651.3,125.4 656.5,123.1 C661.8,120.8 669.7,117.3 672.4,116.2" fill="none" stroke="#fafafa" stroke-width="1.8" stroke-linecap="round" filter="url(#bl3)"/></g>
<path d="M600.2,110.7 C600.0,108.5 600.0,105.4 600.9,102.5 C601.8,99.6 603.5,96.0 605.5,93.1 C607.5,90.2 609.9,87.4 612.6,84.9 C615.4,82.4 618.5,79.9 622.0,77.9 C625.5,76.0 629.8,74.2 633.7,73.2 C637.6,72.2 641.9,71.6 645.4,71.6 C648.9,71.6 652.1,72.2 654.8,73.2 C657.5,74.2 659.7,76.0 661.8,77.9 C663.9,79.9 665.9,82.4 667.6,84.9 C669.4,87.4 670.7,90.2 672.3,93.1 C673.9,96.0 675.8,99.6 677.0,102.5 C678.2,105.4 679.2,108.5 679.4,110.7 C679.6,112.9 679.2,114.2 678.2,115.4 C677.2,116.6 676.0,116.9 673.5,117.7 C671.0,118.5 666.7,119.2 663.0,120.1 C659.3,121.0 655.1,121.9 651.2,123.1 C647.3,124.3 643.0,126.0 639.5,127.1 C636.0,128.2 632.6,129.3 630.2,129.4 C627.8,129.5 626.1,129.0 625.0,127.8 C623.9,126.6 625.1,123.5 623.6,122.4 C622.1,121.3 618.7,121.7 616.1,121.2 C613.5,120.7 610.2,120.4 607.9,119.4 C605.5,118.4 603.3,116.9 602.0,115.4 C600.7,114.0 600.4,112.9 600.2,110.7Z" fill="none" stroke="#c4c4c4" stroke-width="0.8"/>
<circle cx="640.8" cy="81.6" r="2.45" fill="url(#db)"/>
<circle cx="630.7" cy="85.3" r="2.45" fill="url(#db)"/>
<circle cx="651.8" cy="86.1" r="2.45" fill="url(#di)"/>
<circle cx="657.4" cy="86.9" r="2.45" fill="url(#db)"/>
<circle cx="666.8" cy="103.5" r="2.45" fill="url(#dr)"/>
<circle cx="673" cy="102.5" r="2.45" fill="url(#dlb)"/>
<circle cx="663.9" cy="107.8" r="2.45" fill="url(#di)"/>
<circle cx="673.5" cy="110" r="2.45" fill="url(#dc)"/>
<circle cx="676.4" cy="112.6" r="2.45" fill="url(#dn)"/>
<circle cx="614.9" cy="110" r="2.45" fill="url(#db)"/>
<circle cx="649.4" cy="115" r="2.45" fill="url(#db)"/>
<circle cx="610.1" cy="121.2" r="2.45" fill="url(#db)"/>
<path d="M508.5,194.2 C508.3,191.8 508.7,188.7 509.7,186.0 C510.7,183.3 512.2,180.4 514.4,177.8 C516.5,175.2 519.7,172.5 522.6,170.3 C525.5,168.2 528.5,166.3 532.0,164.9 C535.5,163.5 539.8,162.5 543.7,161.8 C547.6,161.1 551.7,160.8 555.4,160.9 C559.1,161.0 562.6,161.4 565.9,162.5 C569.2,163.6 572.6,165.2 575.3,167.2 C578.0,169.2 580.1,171.6 582.3,174.3 C584.4,177.0 586.7,180.3 588.2,183.6 C589.7,186.9 590.8,191.3 591.2,194.2 C591.6,197.1 591.2,199.3 590.5,201.2 C589.8,203.1 589.0,204.4 587.0,205.4 C585.0,206.4 581.7,206.4 578.8,207.1 C575.9,207.8 572.5,208.3 569.4,209.4 C566.3,210.5 563.2,212.1 560.1,213.4 C557.0,214.7 553.6,216.3 550.7,217.2 C547.8,218.1 545.0,218.7 542.5,218.8 C540.0,218.9 537.1,218.5 535.5,217.6 C533.9,216.7 533.0,215.0 532.7,213.4 C532.4,211.8 534.7,209.1 533.6,208.2 C532.5,207.3 528.9,208.3 526.1,207.8 C523.3,207.3 519.2,206.6 516.7,205.4 C514.2,204.2 512.3,202.6 510.9,200.7 C509.5,198.8 508.7,196.6 508.5,194.2Z" fill="url(#bg)"/>
<g clip-path="url(#ceTL)"><path d="M508.5,194.2 C508.3,191.8 508.7,188.7 509.7,186.0 C510.7,183.3 512.2,180.4 514.4,177.8 C516.5,175.2 519.7,172.5 522.6,170.3 C525.5,168.2 528.5,166.3 532.0,164.9 C535.5,163.5 539.8,162.5 543.7,161.8 C547.6,161.1 551.7,160.8 555.4,160.9 C559.1,161.0 562.6,161.4 565.9,162.5 C569.2,163.6 572.6,165.2 575.3,167.2 C578.0,169.2 580.1,171.6 582.3,174.3 C584.4,177.0 586.7,180.3 588.2,183.6 C589.7,186.9 590.8,191.3 591.2,194.2 C591.6,197.1 591.2,199.3 590.5,201.2 C589.8,203.1 589.0,204.4 587.0,205.4 C585.0,206.4 581.7,206.4 578.8,207.1 C575.9,207.8 572.5,208.3 569.4,209.4 C566.3,210.5 563.2,212.1 560.1,213.4 C557.0,214.7 553.6,216.3 550.7,217.2 C547.8,218.1 545.0,218.7 542.5,218.8 C540.0,218.9 537.1,218.5 535.5,217.6 C533.9,216.7 533.0,215.0 532.7,213.4 C532.4,211.8 534.7,209.1 533.6,208.2 C532.5,207.3 528.9,208.3 526.1,207.8 C523.3,207.3 519.2,206.6 516.7,205.4 C514.2,204.2 512.3,202.6 510.9,200.7 C509.5,198.8 508.7,196.6 508.5,194.2Z" fill="none" stroke="#cfcfcf" stroke-width="4" filter="url(#bl2)"/><path d="M552.2,167.2 C551.4,168.6 549.2,172.6 547.3,175.8 C545.3,179.0 541.6,184.6 540.4,186.4" fill="none" stroke="#d2d2d2" stroke-width="2.6" stroke-linecap="round" filter="url(#bl3)"/><path d="M552.2,167.2 C551.4,168.6 549.2,172.6 547.3,175.8 C545.3,179.0 541.6,184.6 540.4,186.4" fill="none" stroke="#c8c8c8" stroke-width="0.7" stroke-linecap="round" filter="url(#bl)"/><path d="M553.1,169.0 C552.3,170.4 550.1,174.4 548.2,177.6 C546.2,180.8 542.5,186.4 541.3,188.2" fill="none" stroke="#fafafa" stroke-width="1.8" stroke-linecap="round" filter="url(#bl3)"/><path d="M544.1,164.3 C542.8,166.2 538.7,171.4 536.3,175.8 C533.8,180.1 530.6,187.8 529.4,190.3" fill="none" stroke="#d2d2d2" stroke-width="2.6" stroke-linecap="round" filter="url(#bl3)"/><path d="M544.1,164.3 C542.8,166.2 538.7,171.4 536.3,175.8 C533.8,180.1 530.6,187.8 529.4,190.3" fill="none" stroke="#c8c8c8" stroke-width="0.7" stroke-linecap="round" filter="url(#bl)"/><path d="M545.0,166.1 C543.7,168.0 539.6,173.2 537.2,177.6 C534.7,181.9 531.5,189.6 530.3,192.1" fill="none" stroke="#fafafa" stroke-width="1.8" stroke-linecap="round" filter="url(#bl3)"/><path d="M514.8,183.5 C516.4,181.7 520.5,175.9 524.5,173.0 C528.6,170.1 536.7,167.3 539.1,166.2" fill="none" stroke="#d2d2d2" stroke-width="2.6" stroke-linecap="round" filter="url(#bl3)"/><path d="M514.8,183.5 C516.4,181.7 520.5,175.9 524.5,173.0 C528.6,170.1 536.7,167.3 539.1,166.2" fill="none" stroke="#c8c8c8" stroke-width="0.7" stroke-linecap="round" filter="url(#bl)"/><path d="M515.7,185.3 C517.3,183.5 521.4,177.7 525.4,174.8 C529.5,171.9 537.6,169.1 540.0,168.0" fill="none" stroke="#fafafa" stroke-width="1.8" stroke-linecap="round" filter="url(#bl3)"/><path d="M511.6,195.1 C513.3,193.9 517.7,189.7 521.4,188.3 C525.2,186.8 532.0,186.7 534.1,186.4" fill="none" stroke="#d2d2d2" stroke-width="2.6" stroke-linecap="round" filter="url(#bl3)"/><path d="M511.6,195.1 C513.3,193.9 517.7,189.7 521.4,188.3 C525.2,186.8 532.0,186.7 534.1,186.4" fill="none" stroke="#c8c8c8" stroke-width="0.7" stroke-linecap="round" filter="url(#bl)"/><path d="M512.5,196.9 C514.2,195.7 518.6,191.5 522.3,190.1 C526.1,188.6 532.9,188.5 535.0,188.2" fill="none" stroke="#fafafa" stroke-width="1.8" stroke-linecap="round" filter="url(#bl3)"/><path d="M536.1,206.6 C538.2,204.4 544.3,197.2 548.9,193.3 C553.4,189.5 559.0,186.0 563.6,183.6 C568.2,181.2 574.2,179.6 576.3,178.8" fill="none" stroke="#d2d2d2" stroke-width="2.6" stroke-linecap="round" filter="url(#bl3)"/><path d="M536.1,206.6 C538.2,204.4 544.3,197.2 548.9,193.3 C553.4,189.5 559.0,186.0 563.6,183.6 C568.2,181.2 574.2,179.6 576.3,178.8" fill="none" stroke="#c8c8c8" stroke-width="0.7" stroke-linecap="round" filter="url(#bl)"/><path d="M537.0,208.4 C539.1,206.2 545.2,199.0 549.8,195.1 C554.3,191.3 559.9,187.8 564.5,185.4 C569.1,183.0 575.1,181.4 577.2,180.6" fill="none" stroke="#fafafa" stroke-width="1.8" stroke-linecap="round" filter="url(#bl3)"/><path d="M544.1,214.3 C546.6,212.4 553.5,206.4 558.9,202.8 C564.2,199.1 571.4,194.6 576.3,192.2 C581.2,189.8 586.1,188.9 588.1,188.3" fill="none" stroke="#d2d2d2" stroke-width="2.6" stroke-linecap="round" filter="url(#bl3)"/><path d="M544.1,214.3 C546.6,212.4 553.5,206.4 558.9,202.8 C564.2,199.1 571.4,194.6 576.3,192.2 C581.2,189.8 586.1,188.9 588.1,188.3" fill="none" stroke="#c8c8c8" stroke-width="0.7" stroke-linecap="round" filter="url(#bl)"/><path d="M545.0,216.1 C547.5,214.2 554.4,208.2 559.8,204.6 C565.1,200.9 572.3,196.4 577.2,194.0 C582.1,191.6 587.0,190.7 589.0,190.1" fill="none" stroke="#fafafa" stroke-width="1.8" stroke-linecap="round" filter="url(#bl3)"/><path d="M558.7,171.0 C561.1,171.4 568.9,171.3 573.3,172.9 C577.7,174.5 583.1,179.4 585.1,180.6" fill="none" stroke="#d2d2d2" stroke-width="2.6" stroke-linecap="round" filter="url(#bl3)"/><path d="M558.7,171.0 C561.1,171.4 568.9,171.3 573.3,172.9 C577.7,174.5 583.1,179.4 585.1,180.6" fill="none" stroke="#c8c8c8" stroke-width="0.7" stroke-linecap="round" filter="url(#bl)"/><path d="M559.6,172.8 C562.0,173.2 569.8,173.1 574.2,174.7 C578.6,176.3 584.0,181.2 586.0,182.4" fill="none" stroke="#fafafa" stroke-width="1.8" stroke-linecap="round" filter="url(#bl3)"/><path d="M563.8,164.3 C563.0,166.2 560.5,172.2 558.9,175.8 C557.2,179.3 554.8,183.8 554.0,185.4" fill="none" stroke="#d2d2d2" stroke-width="2.6" stroke-linecap="round" filter="url(#bl3)"/><path d="M563.8,164.3 C563.0,166.2 560.5,172.2 558.9,175.8 C557.2,179.3 554.8,183.8 554.0,185.4" fill="none" stroke="#c8c8c8" stroke-width="0.7" stroke-linecap="round" filter="url(#bl)"/><path d="M564.7,166.1 C563.9,168.0 561.4,174.0 559.8,177.6 C558.1,181.1 555.7,185.6 554.9,187.2" fill="none" stroke="#fafafa" stroke-width="1.8" stroke-linecap="round" filter="url(#bl3)"/><path d="M549.9,217.6 C552.6,216.5 560.9,213.0 566.4,210.7 C571.9,208.4 580.2,204.9 582.9,203.7" fill="none" stroke="#d2d2d2" stroke-width="2.6" stroke-linecap="round" filter="url(#bl3)"/><path d="M549.9,217.6 C552.6,216.5 560.9,213.0 566.4,210.7 C571.9,208.4 580.2,204.9 582.9,203.7" fill="none" stroke="#c8c8c8" stroke-width="0.7" stroke-linecap="round" filter="url(#bl)"/><path d="M550.8,219.4 C553.5,218.3 561.8,214.8 567.3,212.5 C572.8,210.2 581.1,206.7 583.8,205.5" fill="none" stroke="#fafafa" stroke-width="1.8" stroke-linecap="round" filter="url(#bl3)"/></g>
<path d="M508.5,194.2 C508.3,191.8 508.7,188.7 509.7,186.0 C510.7,183.3 512.2,180.4 514.4,177.8 C516.5,175.2 519.7,172.5 522.6,170.3 C525.5,168.2 528.5,166.3 532.0,164.9 C535.5,163.5 539.8,162.5 543.7,161.8 C547.6,161.1 551.7,160.8 555.4,160.9 C559.1,161.0 562.6,161.4 565.9,162.5 C569.2,163.6 572.6,165.2 575.3,167.2 C578.0,169.2 580.1,171.6 582.3,174.3 C584.4,177.0 586.7,180.3 588.2,183.6 C589.7,186.9 590.8,191.3 591.2,194.2 C591.6,197.1 591.2,199.3 590.5,201.2 C589.8,203.1 589.0,204.4 587.0,205.4 C585.0,206.4 581.7,206.4 578.8,207.1 C575.9,207.8 572.5,208.3 569.4,209.4 C566.3,210.5 563.2,212.1 560.1,213.4 C557.0,214.7 553.6,216.3 550.7,217.2 C547.8,218.1 545.0,218.7 542.5,218.8 C540.0,218.9 537.1,218.5 535.5,217.6 C533.9,216.7 533.0,215.0 532.7,213.4 C532.4,211.8 534.7,209.1 533.6,208.2 C532.5,207.3 528.9,208.3 526.1,207.8 C523.3,207.3 519.2,206.6 516.7,205.4 C514.2,204.2 512.3,202.6 510.9,200.7 C509.5,198.8 508.7,196.6 508.5,194.2Z" fill="none" stroke="#c4c4c4" stroke-width="0.8"/>
<circle cx="556" cy="166.8" r="2.45" fill="url(#di)"/>
<circle cx="541.5" cy="176.4" r="2.45" fill="url(#dc)"/>
<circle cx="547" cy="191.3" r="2.45" fill="url(#dc)"/>
<circle cx="518.1" cy="198.6" r="2.45" fill="url(#dm)"/>
<circle cx="530.7" cy="197.4" r="2.45" fill="url(#dn)"/>
<circle cx="554.3" cy="199.3" r="2.45" fill="url(#di)"/>
<circle cx="560.5" cy="196.9" r="2.45" fill="url(#dr)"/>
<circle cx="578.3" cy="184.6" r="2.45" fill="url(#db)"/>
<circle cx="580.3" cy="187.7" r="2.45" fill="url(#di)"/>
<circle cx="577.6" cy="197.4" r="2.45" fill="url(#db)"/>
<circle cx="585.6" cy="195.7" r="2.45" fill="url(#di)"/>
<circle cx="570.6" cy="201.7" r="2.45" fill="url(#db)"/>
<circle cx="588" cy="203.9" r="2.45" fill="url(#db)"/>
<circle cx="573" cy="207" r="2.45" fill="url(#dn)"/>
<path d="M600.2,196.9 C599.9,195.1 600.0,191.6 600.9,188.7 C601.8,185.8 603.5,182.2 605.5,179.3 C607.5,176.4 609.9,173.6 612.6,171.1 C615.4,168.6 618.7,165.9 622.0,164.1 C625.3,162.3 628.8,161.3 632.5,160.5 C636.2,159.7 640.3,159.3 644.2,159.4 C648.1,159.5 652.4,160.0 655.9,161.2 C659.4,162.4 662.6,164.4 665.3,166.4 C668.0,168.4 670.3,170.9 672.3,173.4 C674.2,175.9 675.8,178.9 677.0,181.6 C678.2,184.3 679.4,187.2 679.8,189.8 C680.2,192.4 680.0,194.8 679.4,196.9 C678.8,199.1 677.5,201.2 675.9,202.7 C674.3,204.2 672.1,205.2 670.0,205.8 C667.9,206.4 665.0,206.0 663.0,206.2 C661.0,206.3 659.4,206.0 658.3,206.7 C657.2,207.4 657.3,209.3 656.4,210.5 C655.5,211.7 654.5,212.9 653.1,213.7 C651.7,214.5 649.8,215.3 647.7,215.2 C645.6,215.0 643.6,214.0 640.7,212.8 C637.8,211.6 633.9,209.4 630.2,208.1 C626.5,206.8 622.1,206.0 618.4,205.1 C614.7,204.2 610.5,203.6 607.9,202.7 C605.2,201.8 603.8,200.7 602.5,199.7 C601.2,198.7 600.5,198.7 600.2,196.9Z" fill="url(#bg)"/>
<g clip-path="url(#ceTR)"><path d="M600.2,196.9 C599.9,195.1 600.0,191.6 600.9,188.7 C601.8,185.8 603.5,182.2 605.5,179.3 C607.5,176.4 609.9,173.6 612.6,171.1 C615.4,168.6 618.7,165.9 622.0,164.1 C625.3,162.3 628.8,161.3 632.5,160.5 C636.2,159.7 640.3,159.3 644.2,159.4 C648.1,159.5 652.4,160.0 655.9,161.2 C659.4,162.4 662.6,164.4 665.3,166.4 C668.0,168.4 670.3,170.9 672.3,173.4 C674.2,175.9 675.8,178.9 677.0,181.6 C678.2,184.3 679.4,187.2 679.8,189.8 C680.2,192.4 680.0,194.8 679.4,196.9 C678.8,199.1 677.5,201.2 675.9,202.7 C674.3,204.2 672.1,205.2 670.0,205.8 C667.9,206.4 665.0,206.0 663.0,206.2 C661.0,206.3 659.4,206.0 658.3,206.7 C657.2,207.4 657.3,209.3 656.4,210.5 C655.5,211.7 654.5,212.9 653.1,213.7 C651.7,214.5 649.8,215.3 647.7,215.2 C645.6,215.0 643.6,214.0 640.7,212.8 C637.8,211.6 633.9,209.4 630.2,208.1 C626.5,206.8 622.1,206.0 618.4,205.1 C614.7,204.2 610.5,203.6 607.9,202.7 C605.2,201.8 603.8,200.7 602.5,199.7 C601.2,198.7 600.5,198.7 600.2,196.9Z" fill="none" stroke="#cfcfcf" stroke-width="4" filter="url(#bl2)"/><path d="M637.8,165.4 C638.6,166.8 640.6,170.7 642.5,173.7 C644.4,176.8 648.0,182.3 649.1,184.0" fill="none" stroke="#d2d2d2" stroke-width="2.6" stroke-linecap="round" filter="url(#bl3)"/><path d="M637.8,165.4 C638.6,166.8 640.6,170.7 642.5,173.7 C644.4,176.8 648.0,182.3 649.1,184.0" fill="none" stroke="#c8c8c8" stroke-width="0.7" stroke-linecap="round" filter="url(#bl)"/><path d="M638.7,167.2 C639.5,168.6 641.5,172.5 643.4,175.5 C645.3,178.6 648.9,184.1 650.0,185.8" fill="none" stroke="#fafafa" stroke-width="1.8" stroke-linecap="round" filter="url(#bl3)"/><path d="M645.5,162.6 C646.8,164.5 650.7,169.6 653.1,173.7 C655.4,177.9 658.6,185.4 659.7,187.7" fill="none" stroke="#d2d2d2" stroke-width="2.6" stroke-linecap="round" filter="url(#bl3)"/><path d="M645.5,162.6 C646.8,164.5 650.7,169.6 653.1,173.7 C655.4,177.9 658.6,185.4 659.7,187.7" fill="none" stroke="#c8c8c8" stroke-width="0.7" stroke-linecap="round" filter="url(#bl)"/><path d="M646.4,164.4 C647.7,166.3 651.6,171.4 654.0,175.5 C656.3,179.7 659.5,187.2 660.6,189.5" fill="none" stroke="#fafafa" stroke-width="1.8" stroke-linecap="round" filter="url(#bl3)"/><path d="M673.8,181.2 C672.2,179.5 668.3,173.8 664.4,171.1 C660.5,168.3 652.7,165.6 650.3,164.5" fill="none" stroke="#d2d2d2" stroke-width="2.6" stroke-linecap="round" filter="url(#bl3)"/><path d="M673.8,181.2 C672.2,179.5 668.3,173.8 664.4,171.1 C660.5,168.3 652.7,165.6 650.3,164.5" fill="none" stroke="#c8c8c8" stroke-width="0.7" stroke-linecap="round" filter="url(#bl)"/><path d="M674.7,183.0 C673.1,181.3 669.2,175.6 665.3,172.9 C661.4,170.1 653.6,167.4 651.2,166.3" fill="none" stroke="#fafafa" stroke-width="1.8" stroke-linecap="round" filter="url(#bl3)"/><path d="M676.8,192.3 C675.2,191.2 671.0,187.2 667.4,185.8 C663.8,184.4 657.2,184.3 655.1,184.0" fill="none" stroke="#d2d2d2" stroke-width="2.6" stroke-linecap="round" filter="url(#bl3)"/><path d="M676.8,192.3 C675.2,191.2 671.0,187.2 667.4,185.8 C663.8,184.4 657.2,184.3 655.1,184.0" fill="none" stroke="#c8c8c8" stroke-width="0.7" stroke-linecap="round" filter="url(#bl)"/><path d="M677.7,194.1 C676.1,193.0 671.9,189.0 668.3,187.6 C664.7,186.2 658.1,186.1 656.0,185.8" fill="none" stroke="#fafafa" stroke-width="1.8" stroke-linecap="round" filter="url(#bl3)"/><path d="M653.2,203.4 C651.2,201.3 645.4,194.3 641.0,190.6 C636.6,187.0 631.2,183.6 626.8,181.3 C622.4,178.9 616.6,177.4 614.5,176.6" fill="none" stroke="#d2d2d2" stroke-width="2.6" stroke-linecap="round" filter="url(#bl3)"/><path d="M653.2,203.4 C651.2,201.3 645.4,194.3 641.0,190.6 C636.6,187.0 631.2,183.6 626.8,181.3 C622.4,178.9 616.6,177.4 614.5,176.6" fill="none" stroke="#c8c8c8" stroke-width="0.7" stroke-linecap="round" filter="url(#bl)"/><path d="M654.1,205.2 C652.1,203.1 646.3,196.1 641.9,192.4 C637.5,188.8 632.1,185.4 627.7,183.1 C623.3,180.7 617.5,179.2 615.4,178.4" fill="none" stroke="#fafafa" stroke-width="1.8" stroke-linecap="round" filter="url(#bl3)"/><path d="M645.5,210.8 C643.1,209.0 636.5,203.3 631.3,199.7 C626.2,196.2 619.2,191.9 614.5,189.5 C609.8,187.2 605.1,186.4 603.2,185.8" fill="none" stroke="#d2d2d2" stroke-width="2.6" stroke-linecap="round" filter="url(#bl3)"/><path d="M645.5,210.8 C643.1,209.0 636.5,203.3 631.3,199.7 C626.2,196.2 619.2,191.9 614.5,189.5 C609.8,187.2 605.1,186.4 603.2,185.8" fill="none" stroke="#c8c8c8" stroke-width="0.7" stroke-linecap="round" filter="url(#bl)"/><path d="M646.4,212.6 C644.0,210.8 637.4,205.1 632.2,201.5 C627.1,198.0 620.1,193.7 615.4,191.3 C610.7,189.0 606.0,188.2 604.1,187.6" fill="none" stroke="#fafafa" stroke-width="1.8" stroke-linecap="round" filter="url(#bl3)"/><path d="M631.5,169.2 C629.1,169.5 621.6,169.5 617.4,171.0 C613.2,172.6 608.0,177.2 606.1,178.4" fill="none" stroke="#d2d2d2" stroke-width="2.6" stroke-linecap="round" filter="url(#bl3)"/><path d="M631.5,169.2 C629.1,169.5 621.6,169.5 617.4,171.0 C613.2,172.6 608.0,177.2 606.1,178.4" fill="none" stroke="#c8c8c8" stroke-width="0.7" stroke-linecap="round" filter="url(#bl)"/><path d="M632.4,171.0 C630.0,171.3 622.5,171.3 618.3,172.8 C614.1,174.4 608.9,179.0 607.0,180.2" fill="none" stroke="#fafafa" stroke-width="1.8" stroke-linecap="round" filter="url(#bl3)"/><path d="M626.5,162.6 C627.3,164.5 629.7,170.3 631.3,173.7 C632.9,177.1 635.2,181.5 636.0,183.1" fill="none" stroke="#d2d2d2" stroke-width="2.6" stroke-linecap="round" filter="url(#bl3)"/><path d="M626.5,162.6 C627.3,164.5 629.7,170.3 631.3,173.7 C632.9,177.1 635.2,181.5 636.0,183.1" fill="none" stroke="#c8c8c8" stroke-width="0.7" stroke-linecap="round" filter="url(#bl)"/><path d="M627.4,164.4 C628.2,166.3 630.6,172.1 632.2,175.5 C633.8,178.9 636.1,183.3 636.9,184.9" fill="none" stroke="#fafafa" stroke-width="1.8" stroke-linecap="round" filter="url(#bl3)"/><path d="M640.0,214.1 C637.3,213.0 629.4,209.6 624.1,207.4 C618.8,205.2 610.8,201.8 608.2,200.7" fill="none" stroke="#d2d2d2" stroke-width="2.6" stroke-linecap="round" filter="url(#bl3)"/><path d="M640.0,214.1 C637.3,213.0 629.4,209.6 624.1,207.4 C618.8,205.2 610.8,201.8 608.2,200.7" fill="none" stroke="#c8c8c8" stroke-width="0.7" stroke-linecap="round" filter="url(#bl)"/><path d="M640.9,215.9 C638.2,214.8 630.3,211.4 625.0,209.2 C619.7,207.0 611.7,203.6 609.1,202.5" fill="none" stroke="#fafafa" stroke-width="1.8" stroke-linecap="round" filter="url(#bl3)"/></g>
<path d="M600.2,196.9 C599.9,195.1 600.0,191.6 600.9,188.7 C601.8,185.8 603.5,182.2 605.5,179.3 C607.5,176.4 609.9,173.6 612.6,171.1 C615.4,168.6 618.7,165.9 622.0,164.1 C625.3,162.3 628.8,161.3 632.5,160.5 C636.2,159.7 640.3,159.3 644.2,159.4 C648.1,159.5 652.4,160.0 655.9,161.2 C659.4,162.4 662.6,164.4 665.3,166.4 C668.0,168.4 670.3,170.9 672.3,173.4 C674.2,175.9 675.8,178.9 677.0,181.6 C678.2,184.3 679.4,187.2 679.8,189.8 C680.2,192.4 680.0,194.8 679.4,196.9 C678.8,199.1 677.5,201.2 675.9,202.7 C674.3,204.2 672.1,205.2 670.0,205.8 C667.9,206.4 665.0,206.0 663.0,206.2 C661.0,206.3 659.4,206.0 658.3,206.7 C657.2,207.4 657.3,209.3 656.4,210.5 C655.5,211.7 654.5,212.9 653.1,213.7 C651.7,214.5 649.8,215.3 647.7,215.2 C645.6,215.0 643.6,214.0 640.7,212.8 C637.8,211.6 633.9,209.4 630.2,208.1 C626.5,206.8 622.1,206.0 618.4,205.1 C614.7,204.2 610.5,203.6 607.9,202.7 C605.2,201.8 603.8,200.7 602.5,199.7 C601.2,198.7 600.5,198.7 600.2,196.9Z" fill="none" stroke="#c4c4c4" stroke-width="0.8"/>
<circle cx="622.5" cy="175.7" r="2.45" fill="url(#dyg)"/>
<circle cx="633.8" cy="172.8" r="2.45" fill="url(#db)"/>
<circle cx="646.5" cy="170.4" r="2.45" fill="url(#di)"/>
<circle cx="653.7" cy="181" r="2.45" fill="url(#dn)"/>
<circle cx="667" cy="187.2" r="2.45" fill="url(#di)"/>
<circle cx="676.6" cy="190.6" r="2.45" fill="url(#dlb)"/>
<circle cx="665" cy="196.8" r="2.45" fill="url(#db)"/>
<circle cx="606.8" cy="190.8" r="2.45" fill="url(#dm)"/>
<circle cx="612.8" cy="191.8" r="2.45" fill="url(#dc)"/>
<circle cx="608" cy="194.4" r="2.45" fill="url(#dc)"/>
<circle cx="615.7" cy="196.6" r="2.45" fill="url(#dm)"/>
<circle cx="630.9" cy="203.8" r="2.45" fill="url(#dr)"/>
<circle cx="619.6" cy="208.8" r="2.45" fill="url(#db)"/>
<path d="M509.7,264.5 C509.7,262.4 509.5,258.3 510.2,255.2 C510.9,252.1 512.2,248.7 513.9,245.8 C515.6,242.9 517.8,240.2 520.2,237.6 C522.6,235.0 525.3,232.4 528.4,230.5 C531.5,228.6 535.3,227.0 539.0,225.9 C542.7,224.8 546.8,224.3 550.7,224.2 C554.6,224.1 558.5,224.3 562.4,225.2 C566.3,226.1 570.8,227.5 574.1,229.4 C577.4,231.3 579.9,233.8 582.3,236.4 C584.6,239.1 586.7,242.2 588.2,245.3 C589.7,248.4 590.8,252.2 591.2,255.2 C591.6,258.2 591.2,261.1 590.5,263.4 C589.8,265.6 589.0,267.3 587.0,268.7 C585.0,270.1 581.5,270.9 578.8,271.6 C576.1,272.3 572.7,272.2 570.6,272.7 C568.5,273.2 567.2,273.4 566.4,274.4 C565.5,275.4 566.4,277.3 565.5,278.6 C564.6,279.9 563.1,281.2 561.2,282.1 C559.3,283.0 556.7,283.8 554.2,283.7 C551.7,283.6 549.3,282.4 546.0,281.4 C542.7,280.3 538.2,278.6 534.3,277.4 C530.4,276.1 526.0,275.1 522.6,273.9 C519.2,272.7 516.0,271.4 513.9,270.4 C511.8,269.4 510.9,269.0 510.2,268.0 C509.5,267.0 509.7,266.6 509.7,264.5Z" fill="url(#bg)"/>
<g clip-path="url(#ceBL)"><path d="M509.7,264.5 C509.7,262.4 509.5,258.3 510.2,255.2 C510.9,252.1 512.2,248.7 513.9,245.8 C515.6,242.9 517.8,240.2 520.2,237.6 C522.6,235.0 525.3,232.4 528.4,230.5 C531.5,228.6 535.3,227.0 539.0,225.9 C542.7,224.8 546.8,224.3 550.7,224.2 C554.6,224.1 558.5,224.3 562.4,225.2 C566.3,226.1 570.8,227.5 574.1,229.4 C577.4,231.3 579.9,233.8 582.3,236.4 C584.6,239.1 586.7,242.2 588.2,245.3 C589.7,248.4 590.8,252.2 591.2,255.2 C591.6,258.2 591.2,261.1 590.5,263.4 C589.8,265.6 589.0,267.3 587.0,268.7 C585.0,270.1 581.5,270.9 578.8,271.6 C576.1,272.3 572.7,272.2 570.6,272.7 C568.5,273.2 567.2,273.4 566.4,274.4 C565.5,275.4 566.4,277.3 565.5,278.6 C564.6,279.9 563.1,281.2 561.2,282.1 C559.3,283.0 556.7,283.8 554.2,283.7 C551.7,283.6 549.3,282.4 546.0,281.4 C542.7,280.3 538.2,278.6 534.3,277.4 C530.4,276.1 526.0,275.1 522.6,273.9 C519.2,272.7 516.0,271.4 513.9,270.4 C511.8,269.4 510.9,269.0 510.2,268.0 C509.5,267.0 509.7,266.6 509.7,264.5Z" fill="none" stroke="#cfcfcf" stroke-width="4" filter="url(#bl2)"/><path d="M548.2,230.6 C549.0,232.1 551.0,236.2 553.0,239.5 C554.9,242.8 558.6,248.6 559.7,250.4" fill="none" stroke="#d2d2d2" stroke-width="2.6" stroke-linecap="round" filter="url(#bl3)"/><path d="M548.2,230.6 C549.0,232.1 551.0,236.2 553.0,239.5 C554.9,242.8 558.6,248.6 559.7,250.4" fill="none" stroke="#c8c8c8" stroke-width="0.7" stroke-linecap="round" filter="url(#bl)"/><path d="M549.1,232.4 C549.9,233.9 551.9,238.0 553.9,241.3 C555.8,244.6 559.5,250.4 560.6,252.2" fill="none" stroke="#fafafa" stroke-width="1.8" stroke-linecap="round" filter="url(#bl3)"/><path d="M556.1,227.7 C557.4,229.6 561.4,235.0 563.8,239.5 C566.2,243.9 569.5,251.9 570.6,254.4" fill="none" stroke="#d2d2d2" stroke-width="2.6" stroke-linecap="round" filter="url(#bl3)"/><path d="M556.1,227.7 C557.4,229.6 561.4,235.0 563.8,239.5 C566.2,243.9 569.5,251.9 570.6,254.4" fill="none" stroke="#c8c8c8" stroke-width="0.7" stroke-linecap="round" filter="url(#bl)"/><path d="M557.0,229.5 C558.3,231.4 562.3,236.8 564.7,241.3 C567.1,245.7 570.4,253.7 571.5,256.2" fill="none" stroke="#fafafa" stroke-width="1.8" stroke-linecap="round" filter="url(#bl3)"/><path d="M585.0,247.4 C583.4,245.6 579.4,239.6 575.4,236.6 C571.4,233.7 563.4,230.8 561.0,229.6" fill="none" stroke="#d2d2d2" stroke-width="2.6" stroke-linecap="round" filter="url(#bl3)"/><path d="M585.0,247.4 C583.4,245.6 579.4,239.6 575.4,236.6 C571.4,233.7 563.4,230.8 561.0,229.6" fill="none" stroke="#c8c8c8" stroke-width="0.7" stroke-linecap="round" filter="url(#bl)"/><path d="M585.9,249.2 C584.3,247.4 580.3,241.4 576.3,238.4 C572.3,235.5 564.3,232.6 561.9,231.4" fill="none" stroke="#fafafa" stroke-width="1.8" stroke-linecap="round" filter="url(#bl3)"/><path d="M588.1,259.3 C586.5,258.1 582.2,253.8 578.5,252.3 C574.8,250.9 568.0,250.7 565.9,250.4" fill="none" stroke="#d2d2d2" stroke-width="2.6" stroke-linecap="round" filter="url(#bl3)"/><path d="M588.1,259.3 C586.5,258.1 582.2,253.8 578.5,252.3 C574.8,250.9 568.0,250.7 565.9,250.4" fill="none" stroke="#c8c8c8" stroke-width="0.7" stroke-linecap="round" filter="url(#bl)"/><path d="M589.0,261.1 C587.4,259.9 583.1,255.6 579.4,254.1 C575.7,252.7 568.9,252.5 566.8,252.2" fill="none" stroke="#fafafa" stroke-width="1.8" stroke-linecap="round" filter="url(#bl3)"/><path d="M564.0,271.1 C561.9,268.9 555.9,261.5 551.4,257.5 C546.9,253.6 541.4,250.0 536.9,247.5 C532.4,245.0 526.5,243.4 524.4,242.6" fill="none" stroke="#d2d2d2" stroke-width="2.6" stroke-linecap="round" filter="url(#bl3)"/><path d="M564.0,271.1 C561.9,268.9 555.9,261.5 551.4,257.5 C546.9,253.6 541.4,250.0 536.9,247.5 C532.4,245.0 526.5,243.4 524.4,242.6" fill="none" stroke="#c8c8c8" stroke-width="0.7" stroke-linecap="round" filter="url(#bl)"/><path d="M564.9,272.9 C562.8,270.7 556.8,263.3 552.3,259.3 C547.8,255.4 542.3,251.8 537.8,249.3 C533.3,246.8 527.4,245.2 525.3,244.4" fill="none" stroke="#fafafa" stroke-width="1.8" stroke-linecap="round" filter="url(#bl3)"/><path d="M556.1,279.1 C553.7,277.1 546.9,271.0 541.6,267.2 C536.3,263.4 529.2,258.8 524.4,256.3 C519.6,253.9 514.7,253.0 512.8,252.3" fill="none" stroke="#d2d2d2" stroke-width="2.6" stroke-linecap="round" filter="url(#bl3)"/><path d="M556.1,279.1 C553.7,277.1 546.9,271.0 541.6,267.2 C536.3,263.4 529.2,258.8 524.4,256.3 C519.6,253.9 514.7,253.0 512.8,252.3" fill="none" stroke="#c8c8c8" stroke-width="0.7" stroke-linecap="round" filter="url(#bl)"/><path d="M557.0,280.9 C554.6,278.9 547.8,272.8 542.5,269.0 C537.2,265.2 530.1,260.6 525.3,258.1 C520.5,255.7 515.6,254.8 513.7,254.1" fill="none" stroke="#fafafa" stroke-width="1.8" stroke-linecap="round" filter="url(#bl3)"/><path d="M541.7,234.6 C539.3,234.9 531.6,234.9 527.3,236.6 C523.0,238.2 517.7,243.2 515.7,244.5" fill="none" stroke="#d2d2d2" stroke-width="2.6" stroke-linecap="round" filter="url(#bl3)"/><path d="M541.7,234.6 C539.3,234.9 531.6,234.9 527.3,236.6 C523.0,238.2 517.7,243.2 515.7,244.5" fill="none" stroke="#c8c8c8" stroke-width="0.7" stroke-linecap="round" filter="url(#bl)"/><path d="M542.6,236.4 C540.2,236.7 532.5,236.7 528.2,238.4 C523.9,240.0 518.6,245.0 516.6,246.3" fill="none" stroke="#fafafa" stroke-width="1.8" stroke-linecap="round" filter="url(#bl3)"/><path d="M536.7,227.7 C537.5,229.6 540.0,235.9 541.6,239.5 C543.2,243.1 545.6,247.8 546.4,249.4" fill="none" stroke="#d2d2d2" stroke-width="2.6" stroke-linecap="round" filter="url(#bl3)"/><path d="M536.7,227.7 C537.5,229.6 540.0,235.9 541.6,239.5 C543.2,243.1 545.6,247.8 546.4,249.4" fill="none" stroke="#c8c8c8" stroke-width="0.7" stroke-linecap="round" filter="url(#bl)"/><path d="M537.6,229.5 C538.4,231.4 540.9,237.7 542.5,241.3 C544.1,244.9 546.5,249.6 547.3,251.2" fill="none" stroke="#fafafa" stroke-width="1.8" stroke-linecap="round" filter="url(#bl3)"/><path d="M550.5,282.5 C547.7,281.3 539.6,277.8 534.1,275.4 C528.7,273.0 520.6,269.4 517.9,268.2" fill="none" stroke="#d2d2d2" stroke-width="2.6" stroke-linecap="round" filter="url(#bl3)"/><path d="M550.5,282.5 C547.7,281.3 539.6,277.8 534.1,275.4 C528.7,273.0 520.6,269.4 517.9,268.2" fill="none" stroke="#c8c8c8" stroke-width="0.7" stroke-linecap="round" filter="url(#bl)"/><path d="M551.4,284.3 C548.6,283.1 540.5,279.6 535.0,277.2 C529.6,274.8 521.5,271.2 518.8,270.0" fill="none" stroke="#fafafa" stroke-width="1.8" stroke-linecap="round" filter="url(#bl3)"/></g>
<path d="M509.7,264.5 C509.7,262.4 509.5,258.3 510.2,255.2 C510.9,252.1 512.2,248.7 513.9,245.8 C515.6,242.9 517.8,240.2 520.2,237.6 C522.6,235.0 525.3,232.4 528.4,230.5 C531.5,228.6 535.3,227.0 539.0,225.9 C542.7,224.8 546.8,224.3 550.7,224.2 C554.6,224.1 558.5,224.3 562.4,225.2 C566.3,226.1 570.8,227.5 574.1,229.4 C577.4,231.3 579.9,233.8 582.3,236.4 C584.6,239.1 586.7,242.2 588.2,245.3 C589.7,248.4 590.8,252.2 591.2,255.2 C591.6,258.2 591.2,261.1 590.5,263.4 C589.8,265.6 589.0,267.3 587.0,268.7 C585.0,270.1 581.5,270.9 578.8,271.6 C576.1,272.3 572.7,272.2 570.6,272.7 C568.5,273.2 567.2,273.4 566.4,274.4 C565.5,275.4 566.4,277.3 565.5,278.6 C564.6,279.9 563.1,281.2 561.2,282.1 C559.3,283.0 556.7,283.8 554.2,283.7 C551.7,283.6 549.3,282.4 546.0,281.4 C542.7,280.3 538.2,278.6 534.3,277.4 C530.4,276.1 526.0,275.1 522.6,273.9 C519.2,272.7 516.0,271.4 513.9,270.4 C511.8,269.4 510.9,269.0 510.2,268.0 C509.5,267.0 509.7,266.6 509.7,264.5Z" fill="none" stroke="#c4c4c4" stroke-width="0.8"/>
<circle cx="542.7" cy="232.4" r="2.45" fill="url(#di)"/>
<circle cx="557.3" cy="242.2" r="2.45" fill="url(#dc)"/>
<circle cx="552" cy="257.1" r="2.45" fill="url(#dc)"/>
<circle cx="520.3" cy="250.1" r="2.45" fill="url(#dm)"/>
<circle cx="518" cy="252.3" r="2.45" fill="url(#db)"/>
<circle cx="513.2" cy="261.3" r="2.45" fill="url(#di)"/>
<circle cx="521.7" cy="263.3" r="2.45" fill="url(#dm)"/>
<circle cx="511" cy="269.2" r="2.45" fill="url(#db)"/>
<circle cx="528.7" cy="267.5" r="2.45" fill="url(#dm)"/>
<circle cx="538" cy="262.7" r="2.45" fill="url(#dr)"/>
<circle cx="544.7" cy="265" r="2.45" fill="url(#dn)"/>
<circle cx="525.9" cy="273.1" r="2.45" fill="url(#dn)"/>
<circle cx="568.6" cy="263.3" r="2.45" fill="url(#di)"/>
<circle cx="580.6" cy="264.1" r="2.45" fill="url(#dlb)"/>
<path d="M600.2,255.2 C600.4,253.0 600.9,250.0 602.0,247.7 C603.1,245.3 604.8,243.3 606.7,241.1 C608.7,238.9 611.0,236.4 613.7,234.5 C616.4,232.6 619.6,230.8 623.1,229.4 C626.6,228.0 630.9,226.9 634.8,226.3 C638.7,225.7 643.1,225.7 646.6,225.9 C650.1,226.1 653.2,226.5 655.9,227.5 C658.6,228.5 660.9,230.0 663.0,231.7 C665.1,233.4 667.0,235.4 668.8,237.6 C670.5,239.8 672.0,242.1 673.5,244.6 C675.0,247.1 676.5,250.3 677.5,252.8 C678.5,255.3 679.3,257.9 679.4,259.8 C679.5,261.8 679.2,263.3 678.2,264.5 C677.2,265.7 675.6,266.1 673.5,266.9 C671.4,267.7 668.2,268.1 665.3,269.2 C662.4,270.3 659.4,272.0 655.9,273.4 C652.4,274.8 647.9,276.1 644.2,277.4 C640.5,278.7 636.6,280.7 633.7,281.4 C630.8,282.1 628.3,282.1 626.6,281.4 C624.9,280.7 624.0,278.8 623.6,277.4 C623.2,275.9 625.3,273.6 624.3,272.7 C623.2,271.8 619.8,272.5 617.3,272.0 C614.8,271.5 611.5,270.8 609.1,269.7 C606.8,268.6 604.6,267.1 603.2,265.7 C601.8,264.2 601.4,262.8 600.9,261.0 C600.4,259.2 600.0,257.4 600.2,255.2Z" fill="url(#bg)"/>
<g clip-path="url(#ceBR)"><path d="M600.2,255.2 C600.4,253.0 600.9,250.0 602.0,247.7 C603.1,245.3 604.8,243.3 606.7,241.1 C608.7,238.9 611.0,236.4 613.7,234.5 C616.4,232.6 619.6,230.8 623.1,229.4 C626.6,228.0 630.9,226.9 634.8,226.3 C638.7,225.7 643.1,225.7 646.6,225.9 C650.1,226.1 653.2,226.5 655.9,227.5 C658.6,228.5 660.9,230.0 663.0,231.7 C665.1,233.4 667.0,235.4 668.8,237.6 C670.5,239.8 672.0,242.1 673.5,244.6 C675.0,247.1 676.5,250.3 677.5,252.8 C678.5,255.3 679.3,257.9 679.4,259.8 C679.5,261.8 679.2,263.3 678.2,264.5 C677.2,265.7 675.6,266.1 673.5,266.9 C671.4,267.7 668.2,268.1 665.3,269.2 C662.4,270.3 659.4,272.0 655.9,273.4 C652.4,274.8 647.9,276.1 644.2,277.4 C640.5,278.7 636.6,280.7 633.7,281.4 C630.8,282.1 628.3,282.1 626.6,281.4 C624.9,280.7 624.0,278.8 623.6,277.4 C623.2,275.9 625.3,273.6 624.3,272.7 C623.2,271.8 619.8,272.5 617.3,272.0 C614.8,271.5 611.5,270.8 609.1,269.7 C606.8,268.6 604.6,267.1 603.2,265.7 C601.8,264.2 601.4,262.8 600.9,261.0 C600.4,259.2 600.0,257.4 600.2,255.2Z" fill="none" stroke="#cfcfcf" stroke-width="4" filter="url(#bl2)"/><path d="M642.0,231.9 C641.2,233.3 639.2,237.1 637.3,240.2 C635.5,243.2 631.9,248.6 630.8,250.3" fill="none" stroke="#d2d2d2" stroke-width="2.6" stroke-linecap="round" filter="url(#bl3)"/><path d="M642.0,231.9 C641.2,233.3 639.2,237.1 637.3,240.2 C635.5,243.2 631.9,248.6 630.8,250.3" fill="none" stroke="#c8c8c8" stroke-width="0.7" stroke-linecap="round" filter="url(#bl)"/><path d="M642.9,233.7 C642.1,235.1 640.1,238.9 638.2,242.0 C636.4,245.0 632.8,250.4 631.7,252.1" fill="none" stroke="#fafafa" stroke-width="1.8" stroke-linecap="round" filter="url(#bl3)"/><path d="M634.3,229.1 C633.1,231.0 629.2,236.0 626.8,240.2 C624.5,244.3 621.3,251.7 620.2,254.0" fill="none" stroke="#d2d2d2" stroke-width="2.6" stroke-linecap="round" filter="url(#bl3)"/><path d="M634.3,229.1 C633.1,231.0 629.2,236.0 626.8,240.2 C624.5,244.3 621.3,251.7 620.2,254.0" fill="none" stroke="#c8c8c8" stroke-width="0.7" stroke-linecap="round" filter="url(#bl)"/><path d="M635.2,230.9 C634.0,232.8 630.1,237.8 627.7,242.0 C625.4,246.1 622.2,253.5 621.1,255.8" fill="none" stroke="#fafafa" stroke-width="1.8" stroke-linecap="round" filter="url(#bl3)"/><path d="M606.2,247.5 C607.8,245.9 611.7,240.3 615.6,237.5 C619.4,234.7 627.2,232.0 629.5,231.0" fill="none" stroke="#d2d2d2" stroke-width="2.6" stroke-linecap="round" filter="url(#bl3)"/><path d="M606.2,247.5 C607.8,245.9 611.7,240.3 615.6,237.5 C619.4,234.7 627.2,232.0 629.5,231.0" fill="none" stroke="#c8c8c8" stroke-width="0.7" stroke-linecap="round" filter="url(#bl)"/><path d="M607.1,249.3 C608.7,247.7 612.6,242.1 616.5,239.3 C620.3,236.5 628.1,233.8 630.4,232.8" fill="none" stroke="#fafafa" stroke-width="1.8" stroke-linecap="round" filter="url(#bl3)"/><path d="M603.2,258.6 C604.8,257.6 609.0,253.5 612.6,252.2 C616.1,250.8 622.7,250.6 624.8,250.3" fill="none" stroke="#d2d2d2" stroke-width="2.6" stroke-linecap="round" filter="url(#bl3)"/><path d="M603.2,258.6 C604.8,257.6 609.0,253.5 612.6,252.2 C616.1,250.8 622.7,250.6 624.8,250.3" fill="none" stroke="#c8c8c8" stroke-width="0.7" stroke-linecap="round" filter="url(#bl)"/><path d="M604.1,260.4 C605.7,259.4 609.9,255.3 613.5,254.0 C617.0,252.6 623.6,252.4 625.7,252.1" fill="none" stroke="#fafafa" stroke-width="1.8" stroke-linecap="round" filter="url(#bl3)"/><path d="M626.7,269.7 C628.7,267.6 634.5,260.7 638.8,257.0 C643.2,253.3 648.6,250.0 652.9,247.7 C657.3,245.3 663.1,243.8 665.1,243.0" fill="none" stroke="#d2d2d2" stroke-width="2.6" stroke-linecap="round" filter="url(#bl3)"/><path d="M626.7,269.7 C628.7,267.6 634.5,260.7 638.8,257.0 C643.2,253.3 648.6,250.0 652.9,247.7 C657.3,245.3 663.1,243.8 665.1,243.0" fill="none" stroke="#c8c8c8" stroke-width="0.7" stroke-linecap="round" filter="url(#bl)"/><path d="M627.6,271.5 C629.6,269.4 635.4,262.5 639.7,258.8 C644.1,255.1 649.5,251.8 653.8,249.5 C658.2,247.1 664.0,245.6 666.0,244.8" fill="none" stroke="#fafafa" stroke-width="1.8" stroke-linecap="round" filter="url(#bl3)"/><path d="M634.3,277.1 C636.7,275.2 643.3,269.6 648.4,266.0 C653.6,262.5 660.5,258.2 665.1,255.9 C669.8,253.6 674.5,252.8 676.4,252.2" fill="none" stroke="#d2d2d2" stroke-width="2.6" stroke-linecap="round" filter="url(#bl3)"/><path d="M634.3,277.1 C636.7,275.2 643.3,269.6 648.4,266.0 C653.6,262.5 660.5,258.2 665.1,255.9 C669.8,253.6 674.5,252.8 676.4,252.2" fill="none" stroke="#c8c8c8" stroke-width="0.7" stroke-linecap="round" filter="url(#bl)"/><path d="M635.2,278.9 C637.6,277.0 644.2,271.4 649.3,267.8 C654.5,264.3 661.4,260.0 666.0,257.7 C670.7,255.4 675.4,254.6 677.3,254.0" fill="none" stroke="#fafafa" stroke-width="1.8" stroke-linecap="round" filter="url(#bl3)"/><path d="M648.3,235.6 C650.6,235.9 658.1,235.9 662.3,237.4 C666.5,239.0 671.7,243.6 673.5,244.8" fill="none" stroke="#d2d2d2" stroke-width="2.6" stroke-linecap="round" filter="url(#bl3)"/><path d="M648.3,235.6 C650.6,235.9 658.1,235.9 662.3,237.4 C666.5,239.0 671.7,243.6 673.5,244.8" fill="none" stroke="#c8c8c8" stroke-width="0.7" stroke-linecap="round" filter="url(#bl)"/><path d="M649.2,237.4 C651.5,237.7 659.0,237.7 663.2,239.2 C667.4,240.8 672.6,245.4 674.4,246.6" fill="none" stroke="#fafafa" stroke-width="1.8" stroke-linecap="round" filter="url(#bl3)"/><path d="M653.2,229.1 C652.4,231.0 650.0,236.8 648.4,240.2 C646.9,243.5 644.5,247.9 643.8,249.4" fill="none" stroke="#d2d2d2" stroke-width="2.6" stroke-linecap="round" filter="url(#bl3)"/><path d="M653.2,229.1 C652.4,231.0 650.0,236.8 648.4,240.2 C646.9,243.5 644.5,247.9 643.8,249.4" fill="none" stroke="#c8c8c8" stroke-width="0.7" stroke-linecap="round" filter="url(#bl)"/><path d="M654.1,230.9 C653.3,232.8 650.9,238.6 649.3,242.0 C647.8,245.3 645.4,249.7 644.7,251.2" fill="none" stroke="#fafafa" stroke-width="1.8" stroke-linecap="round" filter="url(#bl3)"/><path d="M639.8,280.3 C642.4,279.2 650.4,275.9 655.6,273.6 C660.9,271.4 668.8,268.1 671.5,267.0" fill="none" stroke="#d2d2d2" stroke-width="2.6" stroke-linecap="round" filter="url(#bl3)"/><path d="M639.8,280.3 C642.4,279.2 650.4,275.9 655.6,273.6 C660.9,271.4 668.8,268.1 671.5,267.0" fill="none" stroke="#c8c8c8" stroke-width="0.7" stroke-linecap="round" filter="url(#bl)"/><path d="M640.7,282.1 C643.3,281.0 651.3,277.6 656.5,275.4 C661.8,273.2 669.7,269.9 672.4,268.8" fill="none" stroke="#fafafa" stroke-width="1.8" stroke-linecap="round" filter="url(#bl3)"/></g>
<path d="M600.2,255.2 C600.4,253.0 600.9,250.0 602.0,247.7 C603.1,245.3 604.8,243.3 606.7,241.1 C608.7,238.9 611.0,236.4 613.7,234.5 C616.4,232.6 619.6,230.8 623.1,229.4 C626.6,228.0 630.9,226.9 634.8,226.3 C638.7,225.7 643.1,225.7 646.6,225.9 C650.1,226.1 653.2,226.5 655.9,227.5 C658.6,228.5 660.9,230.0 663.0,231.7 C665.1,233.4 667.0,235.4 668.8,237.6 C670.5,239.8 672.0,242.1 673.5,244.6 C675.0,247.1 676.5,250.3 677.5,252.8 C678.5,255.3 679.3,257.9 679.4,259.8 C679.5,261.8 679.2,263.3 678.2,264.5 C677.2,265.7 675.6,266.1 673.5,266.9 C671.4,267.7 668.2,268.1 665.3,269.2 C662.4,270.3 659.4,272.0 655.9,273.4 C652.4,274.8 647.9,276.1 644.2,277.4 C640.5,278.7 636.6,280.7 633.7,281.4 C630.8,282.1 628.3,282.1 626.6,281.4 C624.9,280.7 624.0,278.8 623.6,277.4 C623.2,275.9 625.3,273.6 624.3,272.7 C623.2,271.8 619.8,272.5 617.3,272.0 C614.8,271.5 611.5,270.8 609.1,269.7 C606.8,268.6 604.6,267.1 603.2,265.7 C601.8,264.2 601.4,262.8 600.9,261.0 C600.4,259.2 600.0,257.4 600.2,255.2Z" fill="none" stroke="#c4c4c4" stroke-width="0.8"/>
<circle cx="633.4" cy="236" r="2.45" fill="url(#di)"/>
<circle cx="645.9" cy="238.6" r="2.45" fill="url(#di)"/>
<circle cx="657.7" cy="241.1" r="2.45" fill="url(#dyg)"/>
<circle cx="625.8" cy="246.3" r="2.45" fill="url(#di)"/>
<circle cx="613" cy="253.1" r="2.45" fill="url(#dn)"/>
<circle cx="603.3" cy="256.1" r="2.45" fill="url(#dlb)"/>
<circle cx="614.6" cy="262.6" r="2.45" fill="url(#db)"/>
<circle cx="667.2" cy="257.4" r="2.45" fill="url(#dc)"/>
<circle cx="672.7" cy="256.1" r="2.45" fill="url(#dm)"/>
<circle cx="671" cy="260.1" r="2.45" fill="url(#dc)"/>
<circle cx="663.9" cy="261.9" r="2.45" fill="url(#dm)"/>
<circle cx="649.6" cy="269.4" r="2.45" fill="url(#dr)"/>
<circle cx="660.2" cy="274.4" r="2.45" fill="url(#db)"/>
<circle cx="58.10" cy="74.80" r="1.2" fill="none" stroke="#000" stroke-width="0.7"/>
<circle cx="58.10" cy="76.07" r="1.2" fill="none" stroke="#000" stroke-width="0.7"/>
<circle cx="58.10" cy="77.33" r="1.2" fill="none" stroke="#000" stroke-width="0.7"/>
<circle cx="58.10" cy="78.60" r="1.2" fill="none" stroke="#000" stroke-width="0.7"/>
<circle cx="58.10" cy="79.87" r="1.2" fill="none" stroke="#000" stroke-width="0.7"/>
<circle cx="58.10" cy="81.13" r="1.2" fill="none" stroke="#000" stroke-width="0.7"/>
<circle cx="58.10" cy="82.40" r="1.2" fill="none" stroke="#000" stroke-width="0.7"/>
<circle cx="58.10" cy="71.60" r="1.2" fill="none" stroke="#000" stroke-width="0.7"/>
<circle cx="78.40" cy="51.00" r="1.2" fill="none" stroke="#000" stroke-width="0.7"/>
<circle cx="78.40" cy="52.45" r="1.2" fill="none" stroke="#000" stroke-width="0.7"/>
<circle cx="78.40" cy="53.90" r="1.2" fill="none" stroke="#000" stroke-width="0.7"/>
<circle cx="78.40" cy="55.35" r="1.2" fill="none" stroke="#000" stroke-width="0.7"/>
<circle cx="78.40" cy="56.80" r="1.2" fill="none" stroke="#000" stroke-width="0.7"/>
<circle cx="160.40" cy="84.00" r="1.2" fill="none" stroke="#000" stroke-width="0.7"/>
<circle cx="160.40" cy="85.25" r="1.2" fill="none" stroke="#000" stroke-width="0.7"/>
<circle cx="160.40" cy="86.50" r="1.2" fill="none" stroke="#000" stroke-width="0.7"/>
<circle cx="160.40" cy="87.75" r="1.2" fill="none" stroke="#000" stroke-width="0.7"/>
<circle cx="160.40" cy="89.00" r="1.2" fill="none" stroke="#000" stroke-width="0.7"/>
<circle cx="160.40" cy="90.25" r="1.2" fill="none" stroke="#000" stroke-width="0.7"/>
<circle cx="160.40" cy="91.50" r="1.2" fill="none" stroke="#000" stroke-width="0.7"/>
<circle cx="160.40" cy="92.75" r="1.2" fill="none" stroke="#000" stroke-width="0.7"/>
<circle cx="160.40" cy="94.00" r="1.2" fill="none" stroke="#000" stroke-width="0.7"/>
<circle cx="160.40" cy="95.25" r="1.2" fill="none" stroke="#000" stroke-width="0.7"/>
<circle cx="160.40" cy="96.50" r="1.2" fill="none" stroke="#000" stroke-width="0.7"/>
<circle cx="160.40" cy="81.50" r="1.2" fill="none" stroke="#000" stroke-width="0.7"/>
<circle cx="181.40" cy="53.50" r="1.2" fill="none" stroke="#000" stroke-width="0.7"/>
<circle cx="181.40" cy="54.83" r="1.2" fill="none" stroke="#000" stroke-width="0.7"/>
<circle cx="181.40" cy="56.17" r="1.2" fill="none" stroke="#000" stroke-width="0.7"/>
<circle cx="181.40" cy="57.50" r="1.2" fill="none" stroke="#000" stroke-width="0.7"/>
<circle cx="181.40" cy="58.83" r="1.2" fill="none" stroke="#000" stroke-width="0.7"/>
<circle cx="181.40" cy="60.17" r="1.2" fill="none" stroke="#000" stroke-width="0.7"/>
<circle cx="181.40" cy="61.50" r="1.2" fill="none" stroke="#000" stroke-width="0.7"/>
<circle cx="181.40" cy="66.80" r="1.2" fill="none" stroke="#000" stroke-width="0.7"/>
<circle cx="263.40" cy="64.00" r="1.2" fill="none" stroke="#000" stroke-width="0.7"/>
<circle cx="263.40" cy="65.37" r="1.2" fill="none" stroke="#000" stroke-width="0.7"/>
<circle cx="263.40" cy="66.73" r="1.2" fill="none" stroke="#000" stroke-width="0.7"/>
<circle cx="263.40" cy="68.10" r="1.2" fill="none" stroke="#000" stroke-width="0.7"/>
<circle cx="263.40" cy="69.47" r="1.2" fill="none" stroke="#000" stroke-width="0.7"/>
<circle cx="263.40" cy="70.83" r="1.2" fill="none" stroke="#000" stroke-width="0.7"/>
<circle cx="263.40" cy="72.20" r="1.2" fill="none" stroke="#000" stroke-width="0.7"/>
<circle cx="263.40" cy="61.80" r="1.2" fill="none" stroke="#000" stroke-width="0.7"/>
<circle cx="283.90" cy="46.00" r="1.2" fill="none" stroke="#000" stroke-width="0.7"/>
<circle cx="283.90" cy="47.29" r="1.2" fill="none" stroke="#000" stroke-width="0.7"/>
<circle cx="283.90" cy="48.57" r="1.2" fill="none" stroke="#000" stroke-width="0.7"/>
<circle cx="283.90" cy="49.86" r="1.2" fill="none" stroke="#000" stroke-width="0.7"/>
<circle cx="283.90" cy="51.14" r="1.2" fill="none" stroke="#000" stroke-width="0.7"/>
<circle cx="283.90" cy="52.43" r="1.2" fill="none" stroke="#000" stroke-width="0.7"/>
<circle cx="283.90" cy="53.71" r="1.2" fill="none" stroke="#000" stroke-width="0.7"/>
<circle cx="283.90" cy="55.00" r="1.2" fill="none" stroke="#000" stroke-width="0.7"/>
<circle cx="283.90" cy="43.80" r="1.2" fill="none" stroke="#000" stroke-width="0.7"/>
<circle cx="366.20" cy="71.20" r="1.2" fill="none" stroke="#000" stroke-width="0.7"/>
<circle cx="366.20" cy="72.50" r="1.2" fill="none" stroke="#000" stroke-width="0.7"/>
<circle cx="366.20" cy="73.80" r="1.2" fill="none" stroke="#000" stroke-width="0.7"/>
<circle cx="366.20" cy="75.10" r="1.2" fill="none" stroke="#000" stroke-width="0.7"/>
<circle cx="366.20" cy="76.40" r="1.2" fill="none" stroke="#000" stroke-width="0.7"/>
<circle cx="366.20" cy="77.70" r="1.2" fill="none" stroke="#000" stroke-width="0.7"/>
<circle cx="366.20" cy="79.00" r="1.2" fill="none" stroke="#000" stroke-width="0.7"/>
<circle cx="366.20" cy="80.30" r="1.2" fill="none" stroke="#000" stroke-width="0.7"/>
<circle cx="386.90" cy="46.00" r="1.2" fill="none" stroke="#000" stroke-width="0.7"/>
<circle cx="386.90" cy="47.15" r="1.2" fill="none" stroke="#000" stroke-width="0.7"/>
<circle cx="386.90" cy="48.30" r="1.2" fill="none" stroke="#000" stroke-width="0.7"/>
<circle cx="386.90" cy="41.20" r="1.2" fill="none" stroke="#000" stroke-width="0.7"/>
<circle cx="51.50" cy="263.50" r="1.2" fill="none" stroke="#000" stroke-width="0.7"/>
<circle cx="51.50" cy="264.74" r="1.2" fill="none" stroke="#000" stroke-width="0.7"/>
<circle cx="51.50" cy="265.99" r="1.2" fill="none" stroke="#000" stroke-width="0.7"/>
<circle cx="51.50" cy="267.23" r="1.2" fill="none" stroke="#000" stroke-width="0.7"/>
<circle cx="51.50" cy="268.47" r="1.2" fill="none" stroke="#000" stroke-width="0.7"/>
<circle cx="51.50" cy="269.71" r="1.2" fill="none" stroke="#000" stroke-width="0.7"/>
<circle cx="51.50" cy="270.96" r="1.2" fill="none" stroke="#000" stroke-width="0.7"/>
<circle cx="51.50" cy="272.20" r="1.2" fill="none" stroke="#000" stroke-width="0.7"/>
<circle cx="51.50" cy="260.90" r="1.2" fill="none" stroke="#000" stroke-width="0.7"/>
<circle cx="70.40" cy="226.50" r="1.2" fill="none" stroke="#000" stroke-width="0.7"/>
<circle cx="70.40" cy="227.85" r="1.2" fill="none" stroke="#000" stroke-width="0.7"/>
<circle cx="70.40" cy="229.20" r="1.2" fill="none" stroke="#000" stroke-width="0.7"/>
<circle cx="70.40" cy="230.55" r="1.2" fill="none" stroke="#000" stroke-width="0.7"/>
<circle cx="70.40" cy="231.90" r="1.2" fill="none" stroke="#000" stroke-width="0.7"/>
<circle cx="70.40" cy="233.25" r="1.2" fill="none" stroke="#000" stroke-width="0.7"/>
<circle cx="70.40" cy="234.60" r="1.2" fill="none" stroke="#000" stroke-width="0.7"/>
<circle cx="70.40" cy="235.95" r="1.2" fill="none" stroke="#000" stroke-width="0.7"/>
<circle cx="70.40" cy="237.30" r="1.2" fill="none" stroke="#000" stroke-width="0.7"/>
<circle cx="70.40" cy="223.90" r="1.2" fill="none" stroke="#000" stroke-width="0.7"/>
<text x="478.40" y="8.40" font-family="Liberation Serif" font-size="12.6" font-weight="bold" text-anchor="start" fill="#000" >(b)</text>
<text x="478.40" y="159.50" font-family="Liberation Serif" font-size="12.6" font-weight="bold" text-anchor="start" fill="#000" >(e)</text>
<text x="505.60" y="8.70" font-family="Liberation Sans" font-size="8.2" font-weight="bold" text-anchor="start" fill="#000" >L</text>
<text x="678.50" y="8.70" font-family="Liberation Sans" font-size="8.3" font-weight="bold" text-anchor="start" fill="#000" >R</text>
<text x="505.60" y="162.70" font-family="Liberation Sans" font-size="8.2" font-weight="bold" text-anchor="start" fill="#000" >L</text>
<text x="678.50" y="162.70" font-family="Liberation Sans" font-size="8.3" font-weight="bold" text-anchor="start" fill="#000" >R</text>
<defs><linearGradient id="jet" x1="0" x2="1" y1="0" y2="0"><stop offset="0" stop-color="#00008f"/><stop offset="0.125" stop-color="#0000ff"/><stop offset="0.375" stop-color="#00ffff"/><stop offset="0.625" stop-color="#ffff00"/><stop offset="0.875" stop-color="#ff0000"/><stop offset="1" stop-color="#800000"/></linearGradient></defs>
<rect x="575.00" y="130.60" width="38.20" height="4.20" fill="url(#jet)" stroke="none" stroke-width="0"/>
<text x="593.60" y="128.80" font-family="Liberation Serif" font-size="5.8" font-weight="bold" text-anchor="middle" fill="#000" >Importance</text>
<text x="572.60" y="141.00" font-family="Liberation Serif" font-size="6.0" font-weight="bold" text-anchor="middle" fill="#000" >0.012</text>
<text x="611.40" y="141.00" font-family="Liberation Serif" font-size="6.0" font-weight="bold" text-anchor="middle" fill="#000" >0.043</text>
<rect x="575.00" y="284.40" width="38.20" height="4.20" fill="url(#jet)" stroke="none" stroke-width="0"/>
<text x="593.60" y="282.60" font-family="Liberation Serif" font-size="5.8" font-weight="bold" text-anchor="middle" fill="#000" >Importance</text>
<text x="572.60" y="294.80" font-family="Liberation Serif" font-size="6.0" font-weight="bold" text-anchor="middle" fill="#000" >0.006</text>
<text x="611.40" y="294.80" font-family="Liberation Serif" font-size="6.0" font-weight="bold" text-anchor="middle" fill="#000" >0.015</text>
</svg></body></html>
